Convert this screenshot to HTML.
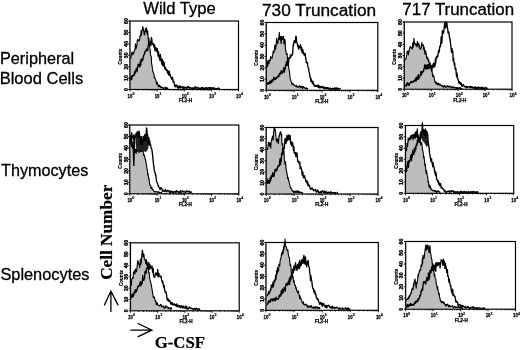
<!DOCTYPE html>
<html><head><meta charset="utf-8"><style>
html,body{margin:0;padding:0;background:#fff;width:520px;height:350px;overflow:hidden}
svg{display:block;filter:blur(0.35px)}
.s{font-family:"Liberation Sans",sans-serif;stroke:#000;stroke-width:0.3px}
.b{font-family:"Liberation Serif",serif;font-weight:bold;stroke:#000;stroke-width:0.2px}
</style></head><body>
<svg width="520" height="350" viewBox="0 0 520 350">
<rect width="520" height="350" fill="#fff"/>
<g fill="#000">
<text class="s" font-size="16.0" transform="translate(143.22,13.80) scale(1.0390,1)">Wild Type</text>
<text class="s" font-size="16.0" transform="translate(261.94,15.60) scale(1.0808,1)">730 Truncation</text>
<text class="s" font-size="16.0" transform="translate(402.35,14.90) scale(1.0567,1)">717 Truncation</text>
<text class="s" font-size="16.3" transform="translate(-0.00,64.30) scale(0.9975,1)">Peripheral</text>
<text class="s" font-size="16.3" transform="translate(-0.32,84.00) scale(1.0134,1)">Blood Cells</text>
<text class="s" font-size="16.3" transform="translate(0.99,175.80) scale(0.9945,1)">Thymocytes</text>
<text class="s" font-size="16.3" transform="translate(0.41,280.30) scale(1.0034,1)">Splenocytes</text>
<text class="b" font-size="17.2" transform="translate(154.66,347.50) scale(0.9763,1)">G-CSF</text>
<text class="b" font-size="17.0" transform="translate(112.0,279.86) rotate(-90) scale(1.0136,1)">Cell Number</text>
</g>
<g stroke="#000" stroke-width="1.3" fill="none" stroke-linecap="round" stroke-linejoin="miter">
<path d="M110.9 311.5 V291.5 M104.5 304.9 L110.9 291.3 L118 304.9"/>
<path d="M130.8 330.2 H151.7 M138.1 323.5 L151.9 330.2 L138.1 336.6"/>
</g>
<polygon points="130.30,88.90 130.30,57.87 130.30,57.87 130.73,58.38 131.15,55.72 131.57,54.42 132.00,51.95 132.44,52.79 132.88,55.01 133.32,52.74 133.76,53.40 134.20,50.87 134.64,50.35 135.07,49.01 135.51,43.92 135.95,48.89 136.39,47.21 136.82,46.34 137.26,40.33 137.70,39.44 138.08,40.21 138.47,40.29 138.85,41.28 139.23,39.42 139.62,39.92 140.00,35.92 140.38,36.69 140.77,35.19 141.15,30.59 141.53,35.10 141.92,30.49 142.30,30.60 142.68,26.62 143.07,27.47 143.45,29.75 143.83,31.57 144.22,34.75 144.60,34.87 145.00,31.53 145.40,28.66 145.80,28.40 146.20,31.84 146.58,27.77 146.96,32.31 147.34,34.42 147.72,30.89 148.10,36.63 148.50,42.74 148.90,38.24 149.30,44.34 149.70,47.75 150.08,48.91 150.46,54.66 150.84,56.21 151.22,56.12 151.60,63.53 151.98,65.47 152.37,68.21 152.75,71.29 153.13,71.69 153.52,73.58 153.90,73.82 154.28,77.71 154.67,77.18 155.05,78.57 155.43,78.76 155.82,80.34 156.20,82.03 156.62,84.47 157.05,82.04 157.47,82.76 157.90,84.92 158.32,86.50 158.75,86.23 159.17,85.02 159.60,85.63 160.03,87.14 160.45,86.44 160.88,86.26 161.31,87.80 161.74,87.96 162.16,87.40 162.59,87.53 163.02,87.74 163.45,88.55 163.87,88.00 164.30,88.02 164.71,88.12 165.12,86.96 165.53,88.70 165.94,88.58 166.36,88.43 166.77,87.40 167.18,88.00 167.59,88.82 168.00,87.77 168.00,88.90" fill="#bdbdbd" stroke="none"/>
<polyline points="130.30,57.87 130.73,58.38 131.15,55.72 131.57,54.42 132.00,51.95 132.44,52.79 132.88,55.01 133.32,52.74 133.76,53.40 134.20,50.87 134.64,50.35 135.07,49.01 135.51,43.92 135.95,48.89 136.39,47.21 136.82,46.34 137.26,40.33 137.70,39.44 138.08,40.21 138.47,40.29 138.85,41.28 139.23,39.42 139.62,39.92 140.00,35.92 140.38,36.69 140.77,35.19 141.15,30.59 141.53,35.10 141.92,30.49 142.30,30.60 142.68,26.62 143.07,27.47 143.45,29.75 143.83,31.57 144.22,34.75 144.60,34.87 145.00,31.53 145.40,28.66 145.80,28.40 146.20,31.84 146.58,27.77 146.96,32.31 147.34,34.42 147.72,30.89 148.10,36.63 148.50,42.74 148.90,38.24 149.30,44.34 149.70,47.75 150.08,48.91 150.46,54.66 150.84,56.21 151.22,56.12 151.60,63.53 151.98,65.47 152.37,68.21 152.75,71.29 153.13,71.69 153.52,73.58 153.90,73.82 154.28,77.71 154.67,77.18 155.05,78.57 155.43,78.76 155.82,80.34 156.20,82.03 156.62,84.47 157.05,82.04 157.47,82.76 157.90,84.92 158.32,86.50 158.75,86.23 159.17,85.02 159.60,85.63 160.03,87.14 160.45,86.44 160.88,86.26 161.31,87.80 161.74,87.96 162.16,87.40 162.59,87.53 163.02,87.74 163.45,88.55 163.87,88.00 164.30,88.02 164.71,88.12 165.12,86.96 165.53,88.70 165.94,88.58 166.36,88.43 166.77,87.40 167.18,88.00 167.59,88.82 168.00,87.77" fill="none" stroke="#000" stroke-width="1.1" stroke-linejoin="round"/>
<polyline points="130.30,78.95 130.73,79.99 131.17,76.02 131.60,79.63 132.03,77.46 132.47,75.75 132.90,75.85 133.33,75.73 133.77,74.24 134.20,75.31 134.64,71.55 135.07,71.23 135.51,73.06 135.95,70.55 136.39,68.17 136.82,70.80 137.26,71.08 137.70,66.75 138.14,64.21 138.57,65.91 139.01,65.17 139.45,64.15 139.89,66.91 140.32,61.20 140.76,65.25 141.20,59.21 141.62,59.04 142.05,60.96 142.47,60.94 142.90,59.20 143.32,56.89 143.75,55.26 144.17,54.13 144.60,53.99 145.04,51.31 145.47,51.56 145.91,51.44 146.35,49.15 146.79,50.23 147.22,48.88 147.66,50.71 148.10,46.55 148.50,43.92 148.90,43.40 149.30,43.69 149.70,45.55 150.10,41.50 150.50,42.81 150.90,45.48 151.35,37.32 151.80,39.21 152.25,43.48 152.70,44.47 153.08,44.60 153.47,43.39 153.85,46.82 154.23,46.41 154.62,44.88 155.00,50.94 155.38,48.68 155.77,47.33 156.15,49.45 156.53,50.11 156.92,51.48 157.30,48.73 157.68,52.01 158.07,56.17 158.45,51.59 158.83,54.78 159.22,57.74 159.60,58.08 159.98,60.47 160.37,54.43 160.75,58.22 161.13,59.22 161.52,62.28 161.90,64.22 162.34,59.26 162.78,65.58 163.21,61.08 163.65,66.13 164.09,62.49 164.53,66.52 164.96,69.20 165.40,67.31 165.83,68.55 166.25,70.26 166.68,69.62 167.10,69.79 167.53,73.29 167.95,72.98 168.38,71.20 168.80,75.05 169.24,71.24 169.68,75.52 170.11,74.46 170.55,75.96 170.99,77.68 171.43,77.80 171.86,79.24 172.30,77.11 172.68,78.18 173.07,81.90 173.45,80.96 173.83,81.92 174.22,82.50 174.60,86.22 175.04,85.93 175.47,86.80 175.91,84.83 176.35,85.90 176.79,85.16 177.22,86.98 177.66,87.84 178.10,86.11 178.54,88.03 178.98,87.63 179.42,86.78 179.86,85.74 180.30,88.04 180.74,86.95 181.19,86.61 181.63,87.39 182.07,87.43 182.51,88.25 182.95,86.47 183.39,88.05 183.83,88.33 184.27,88.34 184.71,87.23 185.15,86.88 185.59,88.13 186.03,87.55 186.47,87.59 186.91,88.49 187.36,87.40 187.80,86.56 188.24,87.40 188.68,86.65 189.12,88.25 189.56,87.96 190.00,87.42 190.44,87.81 190.88,88.35 191.32,87.89 191.76,88.68 192.21,87.84 192.65,88.53 193.09,88.81 193.53,88.89 193.97,87.53 194.41,88.48 194.85,87.00 195.29,87.33 195.74,87.04 196.18,88.64 196.62,87.30 197.06,88.03 197.50,87.94 197.94,88.05 198.38,87.74 198.82,88.23 199.26,88.90 199.71,88.15 200.15,88.44 200.59,88.71 201.03,88.06 201.47,87.48 201.91,87.89 202.35,88.80 202.79,87.35 203.24,87.92 203.68,88.80 204.12,88.70 204.56,88.29 205.00,88.73 205.44,88.40 205.88,87.70 206.32,87.51 206.76,88.00 207.21,88.82 207.65,88.06 208.09,87.90 208.53,87.98 208.97,87.60 209.41,88.33 209.85,87.80 210.29,88.59 210.74,87.61 211.18,88.59 211.62,88.11 212.06,87.65 212.50,88.81 212.94,88.32 213.38,87.69 213.82,88.05 214.26,88.63 214.71,88.27 215.15,88.87 215.59,88.87 216.03,88.83 216.47,88.68 216.91,88.90 217.35,88.85 217.79,88.76 218.24,87.83 218.68,88.90 219.12,88.90 219.56,88.46 220.00,88.39" fill="none" stroke="#000" stroke-width="1.35" stroke-linejoin="round"/>
<rect x="130.0" y="21.0" width="108.5" height="68.5" fill="none" stroke="#000" stroke-width="1.2"/>
<line x1="130.00" y1="89.5" x2="130.00" y2="91.5" stroke="#000" stroke-width="0.9"/>
<line x1="138.17" y1="89.5" x2="138.17" y2="90.7" stroke="#000" stroke-width="0.7"/>
<line x1="142.94" y1="89.5" x2="142.94" y2="90.7" stroke="#000" stroke-width="0.7"/>
<line x1="146.33" y1="89.5" x2="146.33" y2="90.7" stroke="#000" stroke-width="0.7"/>
<line x1="148.96" y1="89.5" x2="148.96" y2="90.7" stroke="#000" stroke-width="0.7"/>
<line x1="151.11" y1="89.5" x2="151.11" y2="90.7" stroke="#000" stroke-width="0.7"/>
<line x1="152.92" y1="89.5" x2="152.92" y2="90.7" stroke="#000" stroke-width="0.7"/>
<line x1="154.50" y1="89.5" x2="154.50" y2="90.7" stroke="#000" stroke-width="0.7"/>
<line x1="155.88" y1="89.5" x2="155.88" y2="90.7" stroke="#000" stroke-width="0.7"/>
<text transform="translate(130.00,97.70) scale(0.82,1)" font-size="5.3" font-weight="bold" text-anchor="middle" font-family="Liberation Sans" stroke="#000" stroke-width="0.25">10</text>
<text x="132.50" y="94.90" font-size="3.6" font-weight="bold" font-family="Liberation Sans" stroke="#000" stroke-width="0.15">0</text>
<line x1="157.12" y1="89.5" x2="157.12" y2="91.5" stroke="#000" stroke-width="0.9"/>
<line x1="165.29" y1="89.5" x2="165.29" y2="90.7" stroke="#000" stroke-width="0.7"/>
<line x1="170.07" y1="89.5" x2="170.07" y2="90.7" stroke="#000" stroke-width="0.7"/>
<line x1="173.46" y1="89.5" x2="173.46" y2="90.7" stroke="#000" stroke-width="0.7"/>
<line x1="176.08" y1="89.5" x2="176.08" y2="90.7" stroke="#000" stroke-width="0.7"/>
<line x1="178.23" y1="89.5" x2="178.23" y2="90.7" stroke="#000" stroke-width="0.7"/>
<line x1="180.05" y1="89.5" x2="180.05" y2="90.7" stroke="#000" stroke-width="0.7"/>
<line x1="181.62" y1="89.5" x2="181.62" y2="90.7" stroke="#000" stroke-width="0.7"/>
<line x1="183.01" y1="89.5" x2="183.01" y2="90.7" stroke="#000" stroke-width="0.7"/>
<text transform="translate(157.12,97.70) scale(0.82,1)" font-size="5.3" font-weight="bold" text-anchor="middle" font-family="Liberation Sans" stroke="#000" stroke-width="0.25">10</text>
<text x="159.62" y="94.90" font-size="3.6" font-weight="bold" font-family="Liberation Sans" stroke="#000" stroke-width="0.15">1</text>
<line x1="184.25" y1="89.5" x2="184.25" y2="91.5" stroke="#000" stroke-width="0.9"/>
<line x1="192.42" y1="89.5" x2="192.42" y2="90.7" stroke="#000" stroke-width="0.7"/>
<line x1="197.19" y1="89.5" x2="197.19" y2="90.7" stroke="#000" stroke-width="0.7"/>
<line x1="200.58" y1="89.5" x2="200.58" y2="90.7" stroke="#000" stroke-width="0.7"/>
<line x1="203.21" y1="89.5" x2="203.21" y2="90.7" stroke="#000" stroke-width="0.7"/>
<line x1="205.36" y1="89.5" x2="205.36" y2="90.7" stroke="#000" stroke-width="0.7"/>
<line x1="207.17" y1="89.5" x2="207.17" y2="90.7" stroke="#000" stroke-width="0.7"/>
<line x1="208.75" y1="89.5" x2="208.75" y2="90.7" stroke="#000" stroke-width="0.7"/>
<line x1="210.13" y1="89.5" x2="210.13" y2="90.7" stroke="#000" stroke-width="0.7"/>
<text transform="translate(184.25,97.70) scale(0.82,1)" font-size="5.3" font-weight="bold" text-anchor="middle" font-family="Liberation Sans" stroke="#000" stroke-width="0.25">10</text>
<text x="186.75" y="94.90" font-size="3.6" font-weight="bold" font-family="Liberation Sans" stroke="#000" stroke-width="0.15">2</text>
<line x1="211.38" y1="89.5" x2="211.38" y2="91.5" stroke="#000" stroke-width="0.9"/>
<line x1="219.54" y1="89.5" x2="219.54" y2="90.7" stroke="#000" stroke-width="0.7"/>
<line x1="224.32" y1="89.5" x2="224.32" y2="90.7" stroke="#000" stroke-width="0.7"/>
<line x1="227.71" y1="89.5" x2="227.71" y2="90.7" stroke="#000" stroke-width="0.7"/>
<line x1="230.33" y1="89.5" x2="230.33" y2="90.7" stroke="#000" stroke-width="0.7"/>
<line x1="232.48" y1="89.5" x2="232.48" y2="90.7" stroke="#000" stroke-width="0.7"/>
<line x1="234.30" y1="89.5" x2="234.30" y2="90.7" stroke="#000" stroke-width="0.7"/>
<line x1="235.87" y1="89.5" x2="235.87" y2="90.7" stroke="#000" stroke-width="0.7"/>
<line x1="237.26" y1="89.5" x2="237.26" y2="90.7" stroke="#000" stroke-width="0.7"/>
<text transform="translate(211.38,97.70) scale(0.82,1)" font-size="5.3" font-weight="bold" text-anchor="middle" font-family="Liberation Sans" stroke="#000" stroke-width="0.25">10</text>
<text x="213.88" y="94.90" font-size="3.6" font-weight="bold" font-family="Liberation Sans" stroke="#000" stroke-width="0.15">3</text>
<line x1="238.50" y1="89.5" x2="238.50" y2="91.5" stroke="#000" stroke-width="0.9"/>
<text transform="translate(238.50,97.70) scale(0.82,1)" font-size="5.3" font-weight="bold" text-anchor="middle" font-family="Liberation Sans" stroke="#000" stroke-width="0.25">10</text>
<text x="241.00" y="94.90" font-size="3.6" font-weight="bold" font-family="Liberation Sans" stroke="#000" stroke-width="0.15">4</text>
<text x="185.50" y="101.80" font-size="4.6" font-weight="bold" text-anchor="middle" font-family="Liberation Sans" stroke="#000" stroke-width="0.25">FL2-H</text>
<line x1="128.2" y1="89.50" x2="130.0" y2="89.50" stroke="#000" stroke-width="0.9"/>
<text transform="translate(127.70,89.50) rotate(-90)" x="0" y="0" font-size="5.2" font-weight="bold" text-anchor="middle" font-family="Liberation Sans" stroke="#000" stroke-width="0.35">0</text>
<line x1="128.2" y1="78.08" x2="130.0" y2="78.08" stroke="#000" stroke-width="0.9"/>
<text transform="translate(127.70,78.08) rotate(-90)" x="0" y="0" font-size="5.2" font-weight="bold" text-anchor="middle" font-family="Liberation Sans" stroke="#000" stroke-width="0.35">10</text>
<line x1="128.2" y1="66.67" x2="130.0" y2="66.67" stroke="#000" stroke-width="0.9"/>
<text transform="translate(127.70,66.67) rotate(-90)" x="0" y="0" font-size="5.2" font-weight="bold" text-anchor="middle" font-family="Liberation Sans" stroke="#000" stroke-width="0.35">20</text>
<line x1="128.2" y1="55.25" x2="130.0" y2="55.25" stroke="#000" stroke-width="0.9"/>
<text transform="translate(127.70,55.25) rotate(-90)" x="0" y="0" font-size="5.2" font-weight="bold" text-anchor="middle" font-family="Liberation Sans" stroke="#000" stroke-width="0.35">30</text>
<line x1="128.2" y1="43.83" x2="130.0" y2="43.83" stroke="#000" stroke-width="0.9"/>
<text transform="translate(127.70,43.83) rotate(-90)" x="0" y="0" font-size="5.2" font-weight="bold" text-anchor="middle" font-family="Liberation Sans" stroke="#000" stroke-width="0.35">40</text>
<line x1="128.2" y1="32.42" x2="130.0" y2="32.42" stroke="#000" stroke-width="0.9"/>
<text transform="translate(127.70,32.42) rotate(-90)" x="0" y="0" font-size="5.2" font-weight="bold" text-anchor="middle" font-family="Liberation Sans" stroke="#000" stroke-width="0.35">50</text>
<line x1="128.2" y1="21.00" x2="130.0" y2="21.00" stroke="#000" stroke-width="0.9"/>
<text transform="translate(127.70,21.00) rotate(-90)" x="0" y="0" font-size="5.2" font-weight="bold" text-anchor="middle" font-family="Liberation Sans" stroke="#000" stroke-width="0.35">60</text>
<line x1="129.0" y1="89.50" x2="130.0" y2="89.50" stroke="#000" stroke-width="0.6"/>
<line x1="129.0" y1="87.22" x2="130.0" y2="87.22" stroke="#000" stroke-width="0.6"/>
<line x1="129.0" y1="84.93" x2="130.0" y2="84.93" stroke="#000" stroke-width="0.6"/>
<line x1="129.0" y1="82.65" x2="130.0" y2="82.65" stroke="#000" stroke-width="0.6"/>
<line x1="129.0" y1="80.37" x2="130.0" y2="80.37" stroke="#000" stroke-width="0.6"/>
<line x1="129.0" y1="78.08" x2="130.0" y2="78.08" stroke="#000" stroke-width="0.6"/>
<line x1="129.0" y1="75.80" x2="130.0" y2="75.80" stroke="#000" stroke-width="0.6"/>
<line x1="129.0" y1="73.52" x2="130.0" y2="73.52" stroke="#000" stroke-width="0.6"/>
<line x1="129.0" y1="71.23" x2="130.0" y2="71.23" stroke="#000" stroke-width="0.6"/>
<line x1="129.0" y1="68.95" x2="130.0" y2="68.95" stroke="#000" stroke-width="0.6"/>
<line x1="129.0" y1="66.67" x2="130.0" y2="66.67" stroke="#000" stroke-width="0.6"/>
<line x1="129.0" y1="64.38" x2="130.0" y2="64.38" stroke="#000" stroke-width="0.6"/>
<line x1="129.0" y1="62.10" x2="130.0" y2="62.10" stroke="#000" stroke-width="0.6"/>
<line x1="129.0" y1="59.82" x2="130.0" y2="59.82" stroke="#000" stroke-width="0.6"/>
<line x1="129.0" y1="57.53" x2="130.0" y2="57.53" stroke="#000" stroke-width="0.6"/>
<line x1="129.0" y1="55.25" x2="130.0" y2="55.25" stroke="#000" stroke-width="0.6"/>
<line x1="129.0" y1="52.97" x2="130.0" y2="52.97" stroke="#000" stroke-width="0.6"/>
<line x1="129.0" y1="50.68" x2="130.0" y2="50.68" stroke="#000" stroke-width="0.6"/>
<line x1="129.0" y1="48.40" x2="130.0" y2="48.40" stroke="#000" stroke-width="0.6"/>
<line x1="129.0" y1="46.12" x2="130.0" y2="46.12" stroke="#000" stroke-width="0.6"/>
<line x1="129.0" y1="43.83" x2="130.0" y2="43.83" stroke="#000" stroke-width="0.6"/>
<line x1="129.0" y1="41.55" x2="130.0" y2="41.55" stroke="#000" stroke-width="0.6"/>
<line x1="129.0" y1="39.27" x2="130.0" y2="39.27" stroke="#000" stroke-width="0.6"/>
<line x1="129.0" y1="36.98" x2="130.0" y2="36.98" stroke="#000" stroke-width="0.6"/>
<line x1="129.0" y1="34.70" x2="130.0" y2="34.70" stroke="#000" stroke-width="0.6"/>
<line x1="129.0" y1="32.42" x2="130.0" y2="32.42" stroke="#000" stroke-width="0.6"/>
<line x1="129.0" y1="30.13" x2="130.0" y2="30.13" stroke="#000" stroke-width="0.6"/>
<line x1="129.0" y1="27.85" x2="130.0" y2="27.85" stroke="#000" stroke-width="0.6"/>
<line x1="129.0" y1="25.57" x2="130.0" y2="25.57" stroke="#000" stroke-width="0.6"/>
<line x1="129.0" y1="23.28" x2="130.0" y2="23.28" stroke="#000" stroke-width="0.6"/>
<line x1="129.0" y1="21.00" x2="130.0" y2="21.00" stroke="#000" stroke-width="0.6"/>
<text transform="translate(122.10,56.62) rotate(-90)" x="0" y="0" font-size="4.6" font-weight="bold" text-anchor="middle" font-family="Liberation Sans" stroke="#000" stroke-width="0.2">Counts</text>
<polygon points="266.60,89.70 266.60,68.31 266.60,68.31 266.98,61.48 267.37,64.67 267.75,66.13 268.13,60.40 268.52,62.85 268.90,63.94 269.34,59.88 269.77,60.71 270.21,60.85 270.65,56.50 271.09,57.64 271.52,57.87 271.96,58.45 272.40,56.03 272.78,54.32 273.17,51.13 273.55,51.23 273.93,52.76 274.32,49.59 274.70,45.97 275.08,44.82 275.47,49.60 275.85,47.36 276.23,44.99 276.62,38.21 277.00,42.69 277.38,41.57 277.77,43.71 278.15,39.91 278.53,37.86 278.92,38.65 279.30,32.25 279.68,39.80 280.07,38.49 280.45,36.36 280.83,42.22 281.22,43.48 281.60,36.28 282.00,37.60 282.40,39.51 282.80,38.66 283.20,36.55 283.58,36.22 283.96,44.05 284.34,43.73 284.72,39.23 285.10,40.04 285.50,49.60 285.90,50.36 286.30,54.01 286.70,54.43 287.08,53.48 287.46,58.71 287.84,57.71 288.22,62.27 288.60,66.39 289.00,70.28 289.40,71.07 289.80,74.94 290.20,78.63 290.56,79.66 290.92,81.12 291.28,81.73 291.64,82.27 292.00,84.63 292.44,84.14 292.88,83.54 293.31,84.04 293.75,84.95 294.19,85.13 294.62,85.67 295.06,85.81 295.50,86.25 295.95,86.08 296.39,85.20 296.84,86.74 297.28,87.36 297.73,86.92 298.18,86.50 298.62,87.11 299.07,86.06 299.52,85.65 299.96,87.07 300.41,86.39 300.85,87.78 301.30,86.47 301.73,86.13 302.16,86.61 302.59,88.61 303.02,87.19 303.46,86.51 303.89,87.00 304.32,87.99 304.75,88.01 305.18,87.82 305.61,88.79 306.04,88.28 306.48,87.81 306.91,88.28 307.34,89.02 307.77,88.62 308.20,88.70 308.20,89.70" fill="#bdbdbd" stroke="none"/>
<polyline points="266.60,68.31 266.98,61.48 267.37,64.67 267.75,66.13 268.13,60.40 268.52,62.85 268.90,63.94 269.34,59.88 269.77,60.71 270.21,60.85 270.65,56.50 271.09,57.64 271.52,57.87 271.96,58.45 272.40,56.03 272.78,54.32 273.17,51.13 273.55,51.23 273.93,52.76 274.32,49.59 274.70,45.97 275.08,44.82 275.47,49.60 275.85,47.36 276.23,44.99 276.62,38.21 277.00,42.69 277.38,41.57 277.77,43.71 278.15,39.91 278.53,37.86 278.92,38.65 279.30,32.25 279.68,39.80 280.07,38.49 280.45,36.36 280.83,42.22 281.22,43.48 281.60,36.28 282.00,37.60 282.40,39.51 282.80,38.66 283.20,36.55 283.58,36.22 283.96,44.05 284.34,43.73 284.72,39.23 285.10,40.04 285.50,49.60 285.90,50.36 286.30,54.01 286.70,54.43 287.08,53.48 287.46,58.71 287.84,57.71 288.22,62.27 288.60,66.39 289.00,70.28 289.40,71.07 289.80,74.94 290.20,78.63 290.56,79.66 290.92,81.12 291.28,81.73 291.64,82.27 292.00,84.63 292.44,84.14 292.88,83.54 293.31,84.04 293.75,84.95 294.19,85.13 294.62,85.67 295.06,85.81 295.50,86.25 295.95,86.08 296.39,85.20 296.84,86.74 297.28,87.36 297.73,86.92 298.18,86.50 298.62,87.11 299.07,86.06 299.52,85.65 299.96,87.07 300.41,86.39 300.85,87.78 301.30,86.47 301.73,86.13 302.16,86.61 302.59,88.61 303.02,87.19 303.46,86.51 303.89,87.00 304.32,87.99 304.75,88.01 305.18,87.82 305.61,88.79 306.04,88.28 306.48,87.81 306.91,88.28 307.34,89.02 307.77,88.62 308.20,88.70" fill="none" stroke="#000" stroke-width="1.1" stroke-linejoin="round"/>
<polyline points="266.60,82.58 267.04,83.34 267.48,84.08 267.91,82.59 268.35,83.94 268.79,83.09 269.23,83.20 269.66,81.52 270.10,83.55 270.53,82.82 270.95,80.64 271.38,80.76 271.80,82.51 272.23,79.59 272.65,80.98 273.07,80.86 273.50,79.21 273.94,77.24 274.38,78.90 274.81,78.86 275.25,79.72 275.69,78.93 276.12,77.51 276.56,78.49 277.00,77.73 277.44,76.93 277.88,76.41 278.31,75.65 278.75,76.84 279.19,73.77 279.62,74.16 280.06,74.90 280.50,72.19 280.93,73.29 281.35,70.73 281.77,71.70 282.20,73.30 282.62,72.73 283.05,71.05 283.47,70.15 283.90,67.38 284.34,72.14 284.77,69.24 285.21,69.51 285.65,64.75 286.09,65.25 286.52,61.47 286.96,65.50 287.40,64.97 287.78,59.22 288.17,62.12 288.55,63.21 288.93,58.01 289.32,57.60 289.70,58.37 290.08,57.94 290.47,54.81 290.85,56.72 291.23,55.89 291.62,55.47 292.00,54.31 292.38,54.80 292.77,52.48 293.15,44.62 293.53,45.14 293.92,42.11 294.30,40.49 294.68,42.48 295.06,42.01 295.44,42.65 295.82,36.20 296.20,36.45 296.60,41.59 297.00,42.86 297.40,44.32 297.80,46.74 298.18,45.11 298.57,49.09 298.95,48.37 299.33,47.41 299.72,46.08 300.10,47.55 300.48,44.68 300.87,47.05 301.25,50.39 301.63,47.33 302.02,52.33 302.40,52.96 302.78,49.44 303.17,52.39 303.55,52.44 303.93,54.51 304.32,55.08 304.70,53.71 305.10,53.52 305.50,56.92 305.90,58.83 306.30,62.31 306.68,62.95 307.06,62.44 307.44,62.83 307.82,66.45 308.20,67.40 308.58,68.29 308.97,71.66 309.35,72.56 309.73,75.11 310.12,77.28 310.50,77.39 310.90,81.13 311.30,79.21 311.70,81.97 312.10,81.47 312.50,83.53 312.90,81.08 313.30,82.96 313.71,84.30 314.12,84.92 314.53,86.20 314.94,85.06 315.35,86.27 315.76,85.96 316.17,86.35 316.58,86.14 316.99,85.72 317.40,86.58 317.85,85.20 318.29,87.37 318.74,85.46 319.18,86.69 319.63,87.98 320.08,86.46 320.52,86.76 320.97,87.84 321.42,86.95 321.86,86.35 322.31,87.33 322.75,87.68 323.20,87.87 323.65,86.77 324.09,88.73 324.54,88.80 324.98,87.65 325.43,87.93 325.88,87.49 326.32,88.93 326.77,87.47 327.22,88.54 327.66,87.81 328.11,87.75 328.55,88.80 329.00,89.28 329.44,88.42 329.88,88.01 330.33,89.01 330.77,88.48 331.21,88.73 331.65,89.53 332.10,89.30 332.54,88.29 332.98,89.63 333.42,88.67 333.87,89.18 334.31,88.33 334.75,88.72 335.19,87.82 335.63,89.70 336.08,89.63 336.52,88.15 336.96,88.02 337.40,88.00 337.85,89.60 338.29,88.71 338.73,88.96 339.17,88.85 339.62,88.98 340.06,88.49 340.50,89.11" fill="none" stroke="#000" stroke-width="1.35" stroke-linejoin="round"/>
<rect x="266.3" y="22.5" width="111.5" height="67.8" fill="none" stroke="#000" stroke-width="1.2"/>
<line x1="266.30" y1="90.3" x2="266.30" y2="92.3" stroke="#000" stroke-width="0.9"/>
<line x1="274.69" y1="90.3" x2="274.69" y2="91.5" stroke="#000" stroke-width="0.7"/>
<line x1="279.60" y1="90.3" x2="279.60" y2="91.5" stroke="#000" stroke-width="0.7"/>
<line x1="283.08" y1="90.3" x2="283.08" y2="91.5" stroke="#000" stroke-width="0.7"/>
<line x1="285.78" y1="90.3" x2="285.78" y2="91.5" stroke="#000" stroke-width="0.7"/>
<line x1="287.99" y1="90.3" x2="287.99" y2="91.5" stroke="#000" stroke-width="0.7"/>
<line x1="289.86" y1="90.3" x2="289.86" y2="91.5" stroke="#000" stroke-width="0.7"/>
<line x1="291.47" y1="90.3" x2="291.47" y2="91.5" stroke="#000" stroke-width="0.7"/>
<line x1="292.90" y1="90.3" x2="292.90" y2="91.5" stroke="#000" stroke-width="0.7"/>
<text transform="translate(266.30,98.50) scale(0.82,1)" font-size="5.3" font-weight="bold" text-anchor="middle" font-family="Liberation Sans" stroke="#000" stroke-width="0.25">10</text>
<text x="268.80" y="95.70" font-size="3.6" font-weight="bold" font-family="Liberation Sans" stroke="#000" stroke-width="0.15">0</text>
<line x1="294.18" y1="90.3" x2="294.18" y2="92.3" stroke="#000" stroke-width="0.9"/>
<line x1="302.57" y1="90.3" x2="302.57" y2="91.5" stroke="#000" stroke-width="0.7"/>
<line x1="307.47" y1="90.3" x2="307.47" y2="91.5" stroke="#000" stroke-width="0.7"/>
<line x1="310.96" y1="90.3" x2="310.96" y2="91.5" stroke="#000" stroke-width="0.7"/>
<line x1="313.66" y1="90.3" x2="313.66" y2="91.5" stroke="#000" stroke-width="0.7"/>
<line x1="315.87" y1="90.3" x2="315.87" y2="91.5" stroke="#000" stroke-width="0.7"/>
<line x1="317.73" y1="90.3" x2="317.73" y2="91.5" stroke="#000" stroke-width="0.7"/>
<line x1="319.35" y1="90.3" x2="319.35" y2="91.5" stroke="#000" stroke-width="0.7"/>
<line x1="320.77" y1="90.3" x2="320.77" y2="91.5" stroke="#000" stroke-width="0.7"/>
<text transform="translate(294.18,98.50) scale(0.82,1)" font-size="5.3" font-weight="bold" text-anchor="middle" font-family="Liberation Sans" stroke="#000" stroke-width="0.25">10</text>
<text x="296.68" y="95.70" font-size="3.6" font-weight="bold" font-family="Liberation Sans" stroke="#000" stroke-width="0.15">1</text>
<line x1="322.05" y1="90.3" x2="322.05" y2="92.3" stroke="#000" stroke-width="0.9"/>
<line x1="330.44" y1="90.3" x2="330.44" y2="91.5" stroke="#000" stroke-width="0.7"/>
<line x1="335.35" y1="90.3" x2="335.35" y2="91.5" stroke="#000" stroke-width="0.7"/>
<line x1="338.83" y1="90.3" x2="338.83" y2="91.5" stroke="#000" stroke-width="0.7"/>
<line x1="341.53" y1="90.3" x2="341.53" y2="91.5" stroke="#000" stroke-width="0.7"/>
<line x1="343.74" y1="90.3" x2="343.74" y2="91.5" stroke="#000" stroke-width="0.7"/>
<line x1="345.61" y1="90.3" x2="345.61" y2="91.5" stroke="#000" stroke-width="0.7"/>
<line x1="347.22" y1="90.3" x2="347.22" y2="91.5" stroke="#000" stroke-width="0.7"/>
<line x1="348.65" y1="90.3" x2="348.65" y2="91.5" stroke="#000" stroke-width="0.7"/>
<text transform="translate(322.05,98.50) scale(0.82,1)" font-size="5.3" font-weight="bold" text-anchor="middle" font-family="Liberation Sans" stroke="#000" stroke-width="0.25">10</text>
<text x="324.55" y="95.70" font-size="3.6" font-weight="bold" font-family="Liberation Sans" stroke="#000" stroke-width="0.15">2</text>
<line x1="349.93" y1="90.3" x2="349.93" y2="92.3" stroke="#000" stroke-width="0.9"/>
<line x1="358.32" y1="90.3" x2="358.32" y2="91.5" stroke="#000" stroke-width="0.7"/>
<line x1="363.22" y1="90.3" x2="363.22" y2="91.5" stroke="#000" stroke-width="0.7"/>
<line x1="366.71" y1="90.3" x2="366.71" y2="91.5" stroke="#000" stroke-width="0.7"/>
<line x1="369.41" y1="90.3" x2="369.41" y2="91.5" stroke="#000" stroke-width="0.7"/>
<line x1="371.62" y1="90.3" x2="371.62" y2="91.5" stroke="#000" stroke-width="0.7"/>
<line x1="373.48" y1="90.3" x2="373.48" y2="91.5" stroke="#000" stroke-width="0.7"/>
<line x1="375.10" y1="90.3" x2="375.10" y2="91.5" stroke="#000" stroke-width="0.7"/>
<line x1="376.52" y1="90.3" x2="376.52" y2="91.5" stroke="#000" stroke-width="0.7"/>
<text transform="translate(349.93,98.50) scale(0.82,1)" font-size="5.3" font-weight="bold" text-anchor="middle" font-family="Liberation Sans" stroke="#000" stroke-width="0.25">10</text>
<text x="352.43" y="95.70" font-size="3.6" font-weight="bold" font-family="Liberation Sans" stroke="#000" stroke-width="0.15">3</text>
<line x1="377.80" y1="90.3" x2="377.80" y2="92.3" stroke="#000" stroke-width="0.9"/>
<text transform="translate(377.80,98.50) scale(0.82,1)" font-size="5.3" font-weight="bold" text-anchor="middle" font-family="Liberation Sans" stroke="#000" stroke-width="0.25">10</text>
<text x="380.30" y="95.70" font-size="3.6" font-weight="bold" font-family="Liberation Sans" stroke="#000" stroke-width="0.15">4</text>
<text x="321.80" y="102.60" font-size="4.6" font-weight="bold" text-anchor="middle" font-family="Liberation Sans" stroke="#000" stroke-width="0.25">FL2-H</text>
<line x1="264.5" y1="90.30" x2="266.3" y2="90.30" stroke="#000" stroke-width="0.9"/>
<text transform="translate(264.00,90.30) rotate(-90)" x="0" y="0" font-size="5.2" font-weight="bold" text-anchor="middle" font-family="Liberation Sans" stroke="#000" stroke-width="0.35">0</text>
<line x1="264.5" y1="79.00" x2="266.3" y2="79.00" stroke="#000" stroke-width="0.9"/>
<text transform="translate(264.00,79.00) rotate(-90)" x="0" y="0" font-size="5.2" font-weight="bold" text-anchor="middle" font-family="Liberation Sans" stroke="#000" stroke-width="0.35">10</text>
<line x1="264.5" y1="67.70" x2="266.3" y2="67.70" stroke="#000" stroke-width="0.9"/>
<text transform="translate(264.00,67.70) rotate(-90)" x="0" y="0" font-size="5.2" font-weight="bold" text-anchor="middle" font-family="Liberation Sans" stroke="#000" stroke-width="0.35">20</text>
<line x1="264.5" y1="56.40" x2="266.3" y2="56.40" stroke="#000" stroke-width="0.9"/>
<text transform="translate(264.00,56.40) rotate(-90)" x="0" y="0" font-size="5.2" font-weight="bold" text-anchor="middle" font-family="Liberation Sans" stroke="#000" stroke-width="0.35">30</text>
<line x1="264.5" y1="45.10" x2="266.3" y2="45.10" stroke="#000" stroke-width="0.9"/>
<text transform="translate(264.00,45.10) rotate(-90)" x="0" y="0" font-size="5.2" font-weight="bold" text-anchor="middle" font-family="Liberation Sans" stroke="#000" stroke-width="0.35">40</text>
<line x1="264.5" y1="33.80" x2="266.3" y2="33.80" stroke="#000" stroke-width="0.9"/>
<text transform="translate(264.00,33.80) rotate(-90)" x="0" y="0" font-size="5.2" font-weight="bold" text-anchor="middle" font-family="Liberation Sans" stroke="#000" stroke-width="0.35">50</text>
<line x1="264.5" y1="22.50" x2="266.3" y2="22.50" stroke="#000" stroke-width="0.9"/>
<text transform="translate(264.00,22.50) rotate(-90)" x="0" y="0" font-size="5.2" font-weight="bold" text-anchor="middle" font-family="Liberation Sans" stroke="#000" stroke-width="0.35">60</text>
<line x1="265.3" y1="90.30" x2="266.3" y2="90.30" stroke="#000" stroke-width="0.6"/>
<line x1="265.3" y1="88.04" x2="266.3" y2="88.04" stroke="#000" stroke-width="0.6"/>
<line x1="265.3" y1="85.78" x2="266.3" y2="85.78" stroke="#000" stroke-width="0.6"/>
<line x1="265.3" y1="83.52" x2="266.3" y2="83.52" stroke="#000" stroke-width="0.6"/>
<line x1="265.3" y1="81.26" x2="266.3" y2="81.26" stroke="#000" stroke-width="0.6"/>
<line x1="265.3" y1="79.00" x2="266.3" y2="79.00" stroke="#000" stroke-width="0.6"/>
<line x1="265.3" y1="76.74" x2="266.3" y2="76.74" stroke="#000" stroke-width="0.6"/>
<line x1="265.3" y1="74.48" x2="266.3" y2="74.48" stroke="#000" stroke-width="0.6"/>
<line x1="265.3" y1="72.22" x2="266.3" y2="72.22" stroke="#000" stroke-width="0.6"/>
<line x1="265.3" y1="69.96" x2="266.3" y2="69.96" stroke="#000" stroke-width="0.6"/>
<line x1="265.3" y1="67.70" x2="266.3" y2="67.70" stroke="#000" stroke-width="0.6"/>
<line x1="265.3" y1="65.44" x2="266.3" y2="65.44" stroke="#000" stroke-width="0.6"/>
<line x1="265.3" y1="63.18" x2="266.3" y2="63.18" stroke="#000" stroke-width="0.6"/>
<line x1="265.3" y1="60.92" x2="266.3" y2="60.92" stroke="#000" stroke-width="0.6"/>
<line x1="265.3" y1="58.66" x2="266.3" y2="58.66" stroke="#000" stroke-width="0.6"/>
<line x1="265.3" y1="56.40" x2="266.3" y2="56.40" stroke="#000" stroke-width="0.6"/>
<line x1="265.3" y1="54.14" x2="266.3" y2="54.14" stroke="#000" stroke-width="0.6"/>
<line x1="265.3" y1="51.88" x2="266.3" y2="51.88" stroke="#000" stroke-width="0.6"/>
<line x1="265.3" y1="49.62" x2="266.3" y2="49.62" stroke="#000" stroke-width="0.6"/>
<line x1="265.3" y1="47.36" x2="266.3" y2="47.36" stroke="#000" stroke-width="0.6"/>
<line x1="265.3" y1="45.10" x2="266.3" y2="45.10" stroke="#000" stroke-width="0.6"/>
<line x1="265.3" y1="42.84" x2="266.3" y2="42.84" stroke="#000" stroke-width="0.6"/>
<line x1="265.3" y1="40.58" x2="266.3" y2="40.58" stroke="#000" stroke-width="0.6"/>
<line x1="265.3" y1="38.32" x2="266.3" y2="38.32" stroke="#000" stroke-width="0.6"/>
<line x1="265.3" y1="36.06" x2="266.3" y2="36.06" stroke="#000" stroke-width="0.6"/>
<line x1="265.3" y1="33.80" x2="266.3" y2="33.80" stroke="#000" stroke-width="0.6"/>
<line x1="265.3" y1="31.54" x2="266.3" y2="31.54" stroke="#000" stroke-width="0.6"/>
<line x1="265.3" y1="29.28" x2="266.3" y2="29.28" stroke="#000" stroke-width="0.6"/>
<line x1="265.3" y1="27.02" x2="266.3" y2="27.02" stroke="#000" stroke-width="0.6"/>
<line x1="265.3" y1="24.76" x2="266.3" y2="24.76" stroke="#000" stroke-width="0.6"/>
<line x1="265.3" y1="22.50" x2="266.3" y2="22.50" stroke="#000" stroke-width="0.6"/>
<text transform="translate(258.40,57.76) rotate(-90)" x="0" y="0" font-size="4.6" font-weight="bold" text-anchor="middle" font-family="Liberation Sans" stroke="#000" stroke-width="0.2">Counts</text>
<polygon points="404.60,88.60 404.60,59.09 405.10,59.09 405.55,59.73 406.00,58.49 406.45,56.83 406.90,53.29 407.28,51.22 407.67,52.99 408.05,50.96 408.43,55.01 408.82,52.63 409.20,50.04 409.58,48.65 409.97,47.53 410.35,46.41 410.73,47.20 411.12,48.16 411.50,48.13 411.90,47.48 412.30,49.21 412.70,42.83 413.10,43.80 413.50,46.95 413.90,38.20 414.28,41.30 414.67,43.42 415.05,43.78 415.43,44.80 415.82,43.62 416.20,45.49 416.58,44.91 416.97,46.84 417.35,41.27 417.73,43.19 418.12,45.51 418.50,43.21 418.88,43.57 419.27,47.97 419.65,45.30 420.03,48.74 420.42,49.38 420.80,48.72 421.16,48.52 421.52,46.39 421.88,42.57 422.24,45.21 422.60,45.71 423.00,44.47 423.40,46.66 423.80,49.81 424.20,47.16 424.62,51.52 425.05,54.54 425.47,50.50 425.90,52.93 426.25,53.44 426.60,58.28 426.95,56.80 427.30,59.18 427.70,57.31 428.10,60.12 428.50,61.56 428.90,59.93 429.30,66.60 429.70,66.42 430.10,62.69 430.50,67.84 430.86,67.65 431.22,70.02 431.58,71.24 431.94,69.63 432.30,73.07 432.68,76.78 433.06,74.90 433.44,75.47 433.82,76.24 434.20,77.66 434.60,80.27 435.00,82.42 435.40,81.67 435.80,82.10 436.20,84.19 436.60,82.61 437.00,83.14 437.42,84.48 437.84,84.66 438.25,83.37 438.67,83.42 439.09,84.93 439.51,85.06 439.93,83.87 440.35,85.01 440.76,84.90 441.18,85.91 441.60,85.61 442.03,85.70 442.46,85.56 442.89,86.74 443.33,87.07 443.76,85.76 444.19,86.76 444.62,85.60 445.05,86.30 445.48,86.88 445.91,87.51 446.34,86.18 446.77,86.47 447.21,86.73 447.64,85.60 448.07,86.74 448.50,86.33 448.93,87.11 449.36,86.15 449.79,85.89 450.23,87.05 450.66,87.25 451.09,86.78 451.52,87.76 451.95,87.08 452.38,86.93 452.81,87.66 453.24,86.46 453.67,87.07 454.11,87.52 454.54,88.08 454.97,87.55 455.40,87.87 455.84,87.38 456.27,87.95 456.71,88.60 457.15,87.51 457.59,88.60 458.02,87.63 458.46,88.01 458.90,88.14 459.34,88.59 459.77,87.55 460.21,87.44 460.65,88.50 461.09,88.60 461.52,88.58 461.96,88.60 462.40,88.48 462.40,88.60" fill="#bdbdbd" stroke="none"/>
<polyline points="405.10,59.09 405.55,59.73 406.00,58.49 406.45,56.83 406.90,53.29 407.28,51.22 407.67,52.99 408.05,50.96 408.43,55.01 408.82,52.63 409.20,50.04 409.58,48.65 409.97,47.53 410.35,46.41 410.73,47.20 411.12,48.16 411.50,48.13 411.90,47.48 412.30,49.21 412.70,42.83 413.10,43.80 413.50,46.95 413.90,38.20 414.28,41.30 414.67,43.42 415.05,43.78 415.43,44.80 415.82,43.62 416.20,45.49 416.58,44.91 416.97,46.84 417.35,41.27 417.73,43.19 418.12,45.51 418.50,43.21 418.88,43.57 419.27,47.97 419.65,45.30 420.03,48.74 420.42,49.38 420.80,48.72 421.16,48.52 421.52,46.39 421.88,42.57 422.24,45.21 422.60,45.71 423.00,44.47 423.40,46.66 423.80,49.81 424.20,47.16 424.62,51.52 425.05,54.54 425.47,50.50 425.90,52.93 426.25,53.44 426.60,58.28 426.95,56.80 427.30,59.18 427.70,57.31 428.10,60.12 428.50,61.56 428.90,59.93 429.30,66.60 429.70,66.42 430.10,62.69 430.50,67.84 430.86,67.65 431.22,70.02 431.58,71.24 431.94,69.63 432.30,73.07 432.68,76.78 433.06,74.90 433.44,75.47 433.82,76.24 434.20,77.66 434.60,80.27 435.00,82.42 435.40,81.67 435.80,82.10 436.20,84.19 436.60,82.61 437.00,83.14 437.42,84.48 437.84,84.66 438.25,83.37 438.67,83.42 439.09,84.93 439.51,85.06 439.93,83.87 440.35,85.01 440.76,84.90 441.18,85.91 441.60,85.61 442.03,85.70 442.46,85.56 442.89,86.74 443.33,87.07 443.76,85.76 444.19,86.76 444.62,85.60 445.05,86.30 445.48,86.88 445.91,87.51 446.34,86.18 446.77,86.47 447.21,86.73 447.64,85.60 448.07,86.74 448.50,86.33 448.93,87.11 449.36,86.15 449.79,85.89 450.23,87.05 450.66,87.25 451.09,86.78 451.52,87.76 451.95,87.08 452.38,86.93 452.81,87.66 453.24,86.46 453.67,87.07 454.11,87.52 454.54,88.08 454.97,87.55 455.40,87.87 455.84,87.38 456.27,87.95 456.71,88.60 457.15,87.51 457.59,88.60 458.02,87.63 458.46,88.01 458.90,88.14 459.34,88.59 459.77,87.55 460.21,87.44 460.65,88.50 461.09,88.60 461.52,88.58 461.96,88.60 462.40,88.48" fill="none" stroke="#000" stroke-width="1.1" stroke-linejoin="round"/>
<polygon points="424.50,64.80 428.90,64.00 432.30,65.20 434.60,63.00 436.00,63.50 435.50,67.00 432.30,68.60 428.90,67.60 425.00,69.00" fill="#222" stroke="none"/>
<polyline points="405.10,85.24 405.51,85.76 405.92,85.11 406.33,86.19 406.74,83.31 407.15,84.03 407.56,82.68 407.97,84.98 408.38,83.66 408.79,84.87 409.20,85.46 409.64,83.51 410.07,82.95 410.51,82.38 410.95,81.70 411.39,81.64 411.82,82.82 412.26,81.83 412.70,81.58 413.14,81.00 413.57,82.07 414.01,81.26 414.45,80.17 414.89,80.93 415.32,79.57 415.76,77.95 416.20,81.17 416.62,79.40 417.05,76.98 417.48,79.43 417.90,77.95 418.32,74.70 418.75,78.97 419.18,76.64 419.60,77.08 420.04,75.44 420.48,74.31 420.91,71.46 421.35,75.01 421.79,72.88 422.23,71.76 422.66,72.28 423.10,71.24 423.48,71.54 423.87,68.89 424.25,68.73 424.63,65.02 425.02,66.46 425.40,67.81 425.84,68.95 426.27,65.49 426.71,65.81 427.15,69.01 427.59,65.11 428.02,67.05 428.46,68.62 428.90,65.38 429.32,67.88 429.75,64.20 430.18,66.16 430.60,65.75 431.02,66.28 431.45,68.41 431.88,69.47 432.30,65.21 432.68,64.99 433.07,66.71 433.45,63.25 433.83,65.96 434.22,65.74 434.60,63.64 435.00,64.33 435.40,59.02 435.80,62.92 436.20,56.99 436.60,57.84 437.00,57.16 437.38,55.75 437.77,56.94 438.15,53.40 438.53,50.50 438.92,51.09 439.30,52.02 439.68,46.48 440.07,45.89 440.45,46.71 440.83,42.59 441.22,36.80 441.60,43.26 441.98,41.60 442.37,30.73 442.75,33.49 443.13,33.10 443.52,33.03 443.90,30.44 444.30,26.59 444.70,23.20 445.10,25.80 445.50,27.74 445.86,21.89 446.22,22.88 446.58,26.76 446.94,22.72 447.30,27.61 447.70,28.82 448.10,33.20 448.50,31.55 448.90,32.80 449.30,35.95 449.70,38.66 450.08,38.89 450.47,42.67 450.85,46.53 451.23,49.53 451.62,52.44 452.00,48.36 452.38,51.61 452.77,51.19 453.15,60.88 453.53,57.98 453.92,61.81 454.30,65.26 454.68,63.27 455.07,68.55 455.45,69.35 455.83,68.33 456.22,73.36 456.60,76.51 456.98,73.29 457.37,78.10 457.75,78.35 458.13,79.84 458.52,80.92 458.90,83.08 459.34,81.72 459.77,83.47 460.21,82.51 460.65,84.23 461.09,83.10 461.52,84.32 461.96,86.42 462.40,85.80 462.82,85.39 463.24,84.66 463.65,85.11 464.07,86.07 464.49,86.81 464.91,86.51 465.33,86.71 465.75,86.39 466.16,87.58 466.58,86.38 467.00,86.40 467.44,87.49 467.88,86.93 468.31,86.73 468.75,86.56 469.19,86.83 469.63,87.49 470.07,87.34 470.50,86.31 470.94,87.47 471.38,87.35 471.82,86.61 472.26,87.82 472.70,87.17 473.13,87.18 473.57,87.95 474.01,88.32 474.45,87.10 474.89,87.84 475.32,87.08 475.76,88.60 476.20,87.41 476.65,88.43 477.09,87.38 477.54,88.25 477.98,88.60 478.43,86.93 478.88,87.62 479.32,88.17 479.77,87.86 480.22,87.58 480.66,88.60 481.11,88.04 481.55,87.19 482.00,88.49 482.45,87.26 482.89,88.60 483.34,87.84 483.78,88.23 484.23,88.60 484.68,88.27 485.12,87.59 485.57,87.53 486.02,88.60 486.46,88.60 486.91,87.99 487.35,88.60 487.80,88.60" fill="none" stroke="#000" stroke-width="1.35" stroke-linejoin="round"/>
<rect x="404.3" y="22.0" width="107.69999999999999" height="67.2" fill="none" stroke="#000" stroke-width="1.2"/>
<line x1="404.30" y1="89.2" x2="404.30" y2="91.2" stroke="#000" stroke-width="0.9"/>
<line x1="412.41" y1="89.2" x2="412.41" y2="90.4" stroke="#000" stroke-width="0.7"/>
<line x1="417.15" y1="89.2" x2="417.15" y2="90.4" stroke="#000" stroke-width="0.7"/>
<line x1="420.51" y1="89.2" x2="420.51" y2="90.4" stroke="#000" stroke-width="0.7"/>
<line x1="423.12" y1="89.2" x2="423.12" y2="90.4" stroke="#000" stroke-width="0.7"/>
<line x1="425.25" y1="89.2" x2="425.25" y2="90.4" stroke="#000" stroke-width="0.7"/>
<line x1="427.05" y1="89.2" x2="427.05" y2="90.4" stroke="#000" stroke-width="0.7"/>
<line x1="428.62" y1="89.2" x2="428.62" y2="90.4" stroke="#000" stroke-width="0.7"/>
<line x1="429.99" y1="89.2" x2="429.99" y2="90.4" stroke="#000" stroke-width="0.7"/>
<text transform="translate(404.30,97.40) scale(0.82,1)" font-size="5.3" font-weight="bold" text-anchor="middle" font-family="Liberation Sans" stroke="#000" stroke-width="0.25">10</text>
<text x="406.80" y="94.60" font-size="3.6" font-weight="bold" font-family="Liberation Sans" stroke="#000" stroke-width="0.15">0</text>
<line x1="431.23" y1="89.2" x2="431.23" y2="91.2" stroke="#000" stroke-width="0.9"/>
<line x1="439.33" y1="89.2" x2="439.33" y2="90.4" stroke="#000" stroke-width="0.7"/>
<line x1="444.07" y1="89.2" x2="444.07" y2="90.4" stroke="#000" stroke-width="0.7"/>
<line x1="447.44" y1="89.2" x2="447.44" y2="90.4" stroke="#000" stroke-width="0.7"/>
<line x1="450.04" y1="89.2" x2="450.04" y2="90.4" stroke="#000" stroke-width="0.7"/>
<line x1="452.18" y1="89.2" x2="452.18" y2="90.4" stroke="#000" stroke-width="0.7"/>
<line x1="453.98" y1="89.2" x2="453.98" y2="90.4" stroke="#000" stroke-width="0.7"/>
<line x1="455.54" y1="89.2" x2="455.54" y2="90.4" stroke="#000" stroke-width="0.7"/>
<line x1="456.92" y1="89.2" x2="456.92" y2="90.4" stroke="#000" stroke-width="0.7"/>
<text transform="translate(431.23,97.40) scale(0.82,1)" font-size="5.3" font-weight="bold" text-anchor="middle" font-family="Liberation Sans" stroke="#000" stroke-width="0.25">10</text>
<text x="433.73" y="94.60" font-size="3.6" font-weight="bold" font-family="Liberation Sans" stroke="#000" stroke-width="0.15">1</text>
<line x1="458.15" y1="89.2" x2="458.15" y2="91.2" stroke="#000" stroke-width="0.9"/>
<line x1="466.26" y1="89.2" x2="466.26" y2="90.4" stroke="#000" stroke-width="0.7"/>
<line x1="471.00" y1="89.2" x2="471.00" y2="90.4" stroke="#000" stroke-width="0.7"/>
<line x1="474.36" y1="89.2" x2="474.36" y2="90.4" stroke="#000" stroke-width="0.7"/>
<line x1="476.97" y1="89.2" x2="476.97" y2="90.4" stroke="#000" stroke-width="0.7"/>
<line x1="479.10" y1="89.2" x2="479.10" y2="90.4" stroke="#000" stroke-width="0.7"/>
<line x1="480.90" y1="89.2" x2="480.90" y2="90.4" stroke="#000" stroke-width="0.7"/>
<line x1="482.47" y1="89.2" x2="482.47" y2="90.4" stroke="#000" stroke-width="0.7"/>
<line x1="483.84" y1="89.2" x2="483.84" y2="90.4" stroke="#000" stroke-width="0.7"/>
<text transform="translate(458.15,97.40) scale(0.82,1)" font-size="5.3" font-weight="bold" text-anchor="middle" font-family="Liberation Sans" stroke="#000" stroke-width="0.25">10</text>
<text x="460.65" y="94.60" font-size="3.6" font-weight="bold" font-family="Liberation Sans" stroke="#000" stroke-width="0.15">2</text>
<line x1="485.07" y1="89.2" x2="485.07" y2="91.2" stroke="#000" stroke-width="0.9"/>
<line x1="493.18" y1="89.2" x2="493.18" y2="90.4" stroke="#000" stroke-width="0.7"/>
<line x1="497.92" y1="89.2" x2="497.92" y2="90.4" stroke="#000" stroke-width="0.7"/>
<line x1="501.29" y1="89.2" x2="501.29" y2="90.4" stroke="#000" stroke-width="0.7"/>
<line x1="503.89" y1="89.2" x2="503.89" y2="90.4" stroke="#000" stroke-width="0.7"/>
<line x1="506.03" y1="89.2" x2="506.03" y2="90.4" stroke="#000" stroke-width="0.7"/>
<line x1="507.83" y1="89.2" x2="507.83" y2="90.4" stroke="#000" stroke-width="0.7"/>
<line x1="509.39" y1="89.2" x2="509.39" y2="90.4" stroke="#000" stroke-width="0.7"/>
<line x1="510.77" y1="89.2" x2="510.77" y2="90.4" stroke="#000" stroke-width="0.7"/>
<text transform="translate(485.07,97.40) scale(0.82,1)" font-size="5.3" font-weight="bold" text-anchor="middle" font-family="Liberation Sans" stroke="#000" stroke-width="0.25">10</text>
<text x="487.57" y="94.60" font-size="3.6" font-weight="bold" font-family="Liberation Sans" stroke="#000" stroke-width="0.15">3</text>
<line x1="512.00" y1="89.2" x2="512.00" y2="91.2" stroke="#000" stroke-width="0.9"/>
<text transform="translate(512.00,97.40) scale(0.82,1)" font-size="5.3" font-weight="bold" text-anchor="middle" font-family="Liberation Sans" stroke="#000" stroke-width="0.25">10</text>
<text x="514.50" y="94.60" font-size="3.6" font-weight="bold" font-family="Liberation Sans" stroke="#000" stroke-width="0.15">4</text>
<text x="459.80" y="101.50" font-size="4.6" font-weight="bold" text-anchor="middle" font-family="Liberation Sans" stroke="#000" stroke-width="0.25">FL2-H</text>
<line x1="402.5" y1="89.20" x2="404.3" y2="89.20" stroke="#000" stroke-width="0.9"/>
<text transform="translate(402.00,89.20) rotate(-90)" x="0" y="0" font-size="5.2" font-weight="bold" text-anchor="middle" font-family="Liberation Sans" stroke="#000" stroke-width="0.35">0</text>
<line x1="402.5" y1="78.00" x2="404.3" y2="78.00" stroke="#000" stroke-width="0.9"/>
<text transform="translate(402.00,78.00) rotate(-90)" x="0" y="0" font-size="5.2" font-weight="bold" text-anchor="middle" font-family="Liberation Sans" stroke="#000" stroke-width="0.35">10</text>
<line x1="402.5" y1="66.80" x2="404.3" y2="66.80" stroke="#000" stroke-width="0.9"/>
<text transform="translate(402.00,66.80) rotate(-90)" x="0" y="0" font-size="5.2" font-weight="bold" text-anchor="middle" font-family="Liberation Sans" stroke="#000" stroke-width="0.35">20</text>
<line x1="402.5" y1="55.60" x2="404.3" y2="55.60" stroke="#000" stroke-width="0.9"/>
<text transform="translate(402.00,55.60) rotate(-90)" x="0" y="0" font-size="5.2" font-weight="bold" text-anchor="middle" font-family="Liberation Sans" stroke="#000" stroke-width="0.35">30</text>
<line x1="402.5" y1="44.40" x2="404.3" y2="44.40" stroke="#000" stroke-width="0.9"/>
<text transform="translate(402.00,44.40) rotate(-90)" x="0" y="0" font-size="5.2" font-weight="bold" text-anchor="middle" font-family="Liberation Sans" stroke="#000" stroke-width="0.35">40</text>
<line x1="402.5" y1="33.20" x2="404.3" y2="33.20" stroke="#000" stroke-width="0.9"/>
<text transform="translate(402.00,33.20) rotate(-90)" x="0" y="0" font-size="5.2" font-weight="bold" text-anchor="middle" font-family="Liberation Sans" stroke="#000" stroke-width="0.35">50</text>
<line x1="402.5" y1="22.00" x2="404.3" y2="22.00" stroke="#000" stroke-width="0.9"/>
<text transform="translate(402.00,22.00) rotate(-90)" x="0" y="0" font-size="5.2" font-weight="bold" text-anchor="middle" font-family="Liberation Sans" stroke="#000" stroke-width="0.35">60</text>
<line x1="403.3" y1="89.20" x2="404.3" y2="89.20" stroke="#000" stroke-width="0.6"/>
<line x1="403.3" y1="86.96" x2="404.3" y2="86.96" stroke="#000" stroke-width="0.6"/>
<line x1="403.3" y1="84.72" x2="404.3" y2="84.72" stroke="#000" stroke-width="0.6"/>
<line x1="403.3" y1="82.48" x2="404.3" y2="82.48" stroke="#000" stroke-width="0.6"/>
<line x1="403.3" y1="80.24" x2="404.3" y2="80.24" stroke="#000" stroke-width="0.6"/>
<line x1="403.3" y1="78.00" x2="404.3" y2="78.00" stroke="#000" stroke-width="0.6"/>
<line x1="403.3" y1="75.76" x2="404.3" y2="75.76" stroke="#000" stroke-width="0.6"/>
<line x1="403.3" y1="73.52" x2="404.3" y2="73.52" stroke="#000" stroke-width="0.6"/>
<line x1="403.3" y1="71.28" x2="404.3" y2="71.28" stroke="#000" stroke-width="0.6"/>
<line x1="403.3" y1="69.04" x2="404.3" y2="69.04" stroke="#000" stroke-width="0.6"/>
<line x1="403.3" y1="66.80" x2="404.3" y2="66.80" stroke="#000" stroke-width="0.6"/>
<line x1="403.3" y1="64.56" x2="404.3" y2="64.56" stroke="#000" stroke-width="0.6"/>
<line x1="403.3" y1="62.32" x2="404.3" y2="62.32" stroke="#000" stroke-width="0.6"/>
<line x1="403.3" y1="60.08" x2="404.3" y2="60.08" stroke="#000" stroke-width="0.6"/>
<line x1="403.3" y1="57.84" x2="404.3" y2="57.84" stroke="#000" stroke-width="0.6"/>
<line x1="403.3" y1="55.60" x2="404.3" y2="55.60" stroke="#000" stroke-width="0.6"/>
<line x1="403.3" y1="53.36" x2="404.3" y2="53.36" stroke="#000" stroke-width="0.6"/>
<line x1="403.3" y1="51.12" x2="404.3" y2="51.12" stroke="#000" stroke-width="0.6"/>
<line x1="403.3" y1="48.88" x2="404.3" y2="48.88" stroke="#000" stroke-width="0.6"/>
<line x1="403.3" y1="46.64" x2="404.3" y2="46.64" stroke="#000" stroke-width="0.6"/>
<line x1="403.3" y1="44.40" x2="404.3" y2="44.40" stroke="#000" stroke-width="0.6"/>
<line x1="403.3" y1="42.16" x2="404.3" y2="42.16" stroke="#000" stroke-width="0.6"/>
<line x1="403.3" y1="39.92" x2="404.3" y2="39.92" stroke="#000" stroke-width="0.6"/>
<line x1="403.3" y1="37.68" x2="404.3" y2="37.68" stroke="#000" stroke-width="0.6"/>
<line x1="403.3" y1="35.44" x2="404.3" y2="35.44" stroke="#000" stroke-width="0.6"/>
<line x1="403.3" y1="33.20" x2="404.3" y2="33.20" stroke="#000" stroke-width="0.6"/>
<line x1="403.3" y1="30.96" x2="404.3" y2="30.96" stroke="#000" stroke-width="0.6"/>
<line x1="403.3" y1="28.72" x2="404.3" y2="28.72" stroke="#000" stroke-width="0.6"/>
<line x1="403.3" y1="26.48" x2="404.3" y2="26.48" stroke="#000" stroke-width="0.6"/>
<line x1="403.3" y1="24.24" x2="404.3" y2="24.24" stroke="#000" stroke-width="0.6"/>
<line x1="403.3" y1="22.00" x2="404.3" y2="22.00" stroke="#000" stroke-width="0.6"/>
<text transform="translate(396.40,56.94) rotate(-90)" x="0" y="0" font-size="4.6" font-weight="bold" text-anchor="middle" font-family="Liberation Sans" stroke="#000" stroke-width="0.2">Counts</text>
<polygon points="130.10,193.20 130.10,144.68 130.50,144.68 130.88,139.38 131.25,143.23 131.62,146.80 132.00,146.86 132.40,147.97 132.80,142.49 133.20,147.67 133.60,149.22 133.95,152.43 134.30,146.67 134.65,148.70 135.00,150.09 135.40,152.34 135.80,149.33 136.20,153.36 136.60,148.91 137.00,151.64 137.40,149.53 137.80,150.98 138.20,148.74 138.60,146.34 139.00,152.64 139.40,150.54 139.80,148.24 140.20,149.89 140.60,151.61 141.00,146.61 141.40,149.13 141.80,151.11 142.20,151.47 142.60,149.79 143.00,147.17 143.40,155.33 143.80,154.56 144.20,155.23 144.60,155.97 145.00,158.58 145.40,159.49 145.80,160.68 146.20,163.72 146.60,166.45 147.00,168.87 147.40,169.95 147.80,175.08 148.20,173.88 148.60,179.01 149.00,178.53 149.40,182.08 149.80,184.98 150.20,185.05 150.60,185.59 151.00,188.05 151.43,188.57 151.86,187.36 152.29,188.74 152.71,189.86 153.14,189.75 153.57,190.63 154.00,191.54 154.44,191.71 154.89,191.95 155.33,191.87 155.78,191.43 156.22,191.77 156.67,191.76 157.11,191.90 157.56,192.14 158.00,191.53 158.44,192.29 158.89,192.52 159.33,192.11 159.78,192.65 160.22,192.98 160.67,192.72 161.11,193.20 161.56,192.26 162.00,192.92 162.00,193.20" fill="#bdbdbd" stroke="none"/>
<polyline points="130.50,144.68 130.88,139.38 131.25,143.23 131.62,146.80 132.00,146.86 132.40,147.97 132.80,142.49 133.20,147.67 133.60,149.22 133.95,152.43 134.30,146.67 134.65,148.70 135.00,150.09 135.40,152.34 135.80,149.33 136.20,153.36 136.60,148.91 137.00,151.64 137.40,149.53 137.80,150.98 138.20,148.74 138.60,146.34 139.00,152.64 139.40,150.54 139.80,148.24 140.20,149.89 140.60,151.61 141.00,146.61 141.40,149.13 141.80,151.11 142.20,151.47 142.60,149.79 143.00,147.17 143.40,155.33 143.80,154.56 144.20,155.23 144.60,155.97 145.00,158.58 145.40,159.49 145.80,160.68 146.20,163.72 146.60,166.45 147.00,168.87 147.40,169.95 147.80,175.08 148.20,173.88 148.60,179.01 149.00,178.53 149.40,182.08 149.80,184.98 150.20,185.05 150.60,185.59 151.00,188.05 151.43,188.57 151.86,187.36 152.29,188.74 152.71,189.86 153.14,189.75 153.57,190.63 154.00,191.54 154.44,191.71 154.89,191.95 155.33,191.87 155.78,191.43 156.22,191.77 156.67,191.76 157.11,191.90 157.56,192.14 158.00,191.53 158.44,192.29 158.89,192.52 159.33,192.11 159.78,192.65 160.22,192.98 160.67,192.72 161.11,193.20 161.56,192.26 162.00,192.92" fill="none" stroke="#000" stroke-width="1.1" stroke-linejoin="round"/>
<polyline points="133.00,141.00 133.80,166.00 134.60,142.00" fill="none" stroke="#000" stroke-width="1.3"/>
<polygon points="136.10,135.50 137.70,137.50 139.30,133.00 141.20,142.00 143.50,138.50 145.30,139.50 146.50,131.00 148.10,139.50 149.20,143.00 148.00,149.00 146.00,152.00 143.00,151.00 140.50,150.00 138.00,152.00 136.50,150.00 135.50,142.00" fill="#222" stroke="none"/>
<polyline points="130.50,134.67 130.88,141.47 131.26,142.62 131.64,132.55 132.02,136.96 132.40,137.44 132.85,136.16 133.30,139.81 133.75,134.72 134.20,142.94 134.58,140.42 134.96,138.25 135.34,135.29 135.72,137.76 136.10,133.24 136.50,135.94 136.90,134.33 137.30,131.68 137.70,136.91 138.10,136.45 138.50,136.97 138.90,130.90 139.30,132.30 139.68,136.10 140.06,136.51 140.44,141.56 140.82,144.37 141.20,139.02 141.58,136.47 141.97,142.92 142.35,144.30 142.73,142.00 143.12,141.13 143.50,136.39 143.86,136.34 144.22,141.22 144.58,136.21 144.94,134.44 145.30,136.41 145.70,140.98 146.10,138.03 146.50,127.97 146.90,130.17 147.30,135.40 147.70,134.79 148.10,143.09 148.48,139.77 148.86,137.59 149.24,145.12 149.62,140.45 150.00,143.42 150.37,144.30 150.73,145.01 151.10,148.27 151.50,148.66 151.90,149.51 152.30,152.72 152.70,156.22 153.10,160.08 153.50,164.35 153.90,167.12 154.30,170.44 154.70,171.88 155.10,172.52 155.50,175.07 155.86,175.01 156.22,178.79 156.58,181.18 156.94,182.60 157.30,183.03 157.68,183.73 158.07,185.95 158.45,185.52 158.83,187.15 159.22,187.70 159.60,188.03 160.04,189.48 160.47,187.78 160.91,188.30 161.35,188.15 161.79,188.47 162.22,190.99 162.66,191.27 163.10,190.12 163.55,190.69 163.99,191.30 164.44,191.07 164.88,191.49 165.33,189.51 165.78,190.13 166.22,191.11 166.67,191.99 167.12,191.01 167.56,190.35 168.01,190.84 168.45,190.71 168.90,190.66 169.34,192.44 169.78,190.87 170.21,191.37 170.65,192.55 171.09,192.26 171.53,191.66 171.97,190.99 172.40,191.75 172.84,192.63 173.28,191.94 173.72,192.42 174.16,191.60 174.60,191.92 175.03,191.42 175.47,191.89 175.91,192.52 176.35,190.62 176.79,191.60 177.22,191.83 177.66,191.28 178.10,191.49 178.55,192.25 179.00,192.82 179.45,192.16 179.89,191.96 180.34,190.69 180.79,192.85 181.24,191.82 181.69,191.75 182.14,191.03 182.58,191.76 183.03,191.07 183.48,191.86 183.93,192.14 184.38,191.86 184.83,192.03 185.27,191.29 185.72,192.82 186.17,191.44 186.62,190.82 187.07,191.77 187.52,191.40 187.96,191.25 188.41,191.69 188.86,192.12 189.31,191.17 189.76,191.86 190.21,192.89 190.65,192.41 191.10,191.88 191.55,192.07 192.00,191.92" fill="none" stroke="#000" stroke-width="1.35" stroke-linejoin="round"/>
<rect x="129.8" y="125.0" width="109.0" height="68.80000000000001" fill="none" stroke="#000" stroke-width="1.2"/>
<line x1="129.80" y1="193.8" x2="129.80" y2="195.8" stroke="#000" stroke-width="0.9"/>
<line x1="138.00" y1="193.8" x2="138.00" y2="195.0" stroke="#000" stroke-width="0.7"/>
<line x1="142.80" y1="193.8" x2="142.80" y2="195.0" stroke="#000" stroke-width="0.7"/>
<line x1="146.21" y1="193.8" x2="146.21" y2="195.0" stroke="#000" stroke-width="0.7"/>
<line x1="148.85" y1="193.8" x2="148.85" y2="195.0" stroke="#000" stroke-width="0.7"/>
<line x1="151.00" y1="193.8" x2="151.00" y2="195.0" stroke="#000" stroke-width="0.7"/>
<line x1="152.83" y1="193.8" x2="152.83" y2="195.0" stroke="#000" stroke-width="0.7"/>
<line x1="154.41" y1="193.8" x2="154.41" y2="195.0" stroke="#000" stroke-width="0.7"/>
<line x1="155.80" y1="193.8" x2="155.80" y2="195.0" stroke="#000" stroke-width="0.7"/>
<text transform="translate(129.80,202.00) scale(0.82,1)" font-size="5.3" font-weight="bold" text-anchor="middle" font-family="Liberation Sans" stroke="#000" stroke-width="0.25">10</text>
<text x="132.30" y="199.20" font-size="3.6" font-weight="bold" font-family="Liberation Sans" stroke="#000" stroke-width="0.15">0</text>
<line x1="157.05" y1="193.8" x2="157.05" y2="195.8" stroke="#000" stroke-width="0.9"/>
<line x1="165.25" y1="193.8" x2="165.25" y2="195.0" stroke="#000" stroke-width="0.7"/>
<line x1="170.05" y1="193.8" x2="170.05" y2="195.0" stroke="#000" stroke-width="0.7"/>
<line x1="173.46" y1="193.8" x2="173.46" y2="195.0" stroke="#000" stroke-width="0.7"/>
<line x1="176.10" y1="193.8" x2="176.10" y2="195.0" stroke="#000" stroke-width="0.7"/>
<line x1="178.25" y1="193.8" x2="178.25" y2="195.0" stroke="#000" stroke-width="0.7"/>
<line x1="180.08" y1="193.8" x2="180.08" y2="195.0" stroke="#000" stroke-width="0.7"/>
<line x1="181.66" y1="193.8" x2="181.66" y2="195.0" stroke="#000" stroke-width="0.7"/>
<line x1="183.05" y1="193.8" x2="183.05" y2="195.0" stroke="#000" stroke-width="0.7"/>
<text transform="translate(157.05,202.00) scale(0.82,1)" font-size="5.3" font-weight="bold" text-anchor="middle" font-family="Liberation Sans" stroke="#000" stroke-width="0.25">10</text>
<text x="159.55" y="199.20" font-size="3.6" font-weight="bold" font-family="Liberation Sans" stroke="#000" stroke-width="0.15">1</text>
<line x1="184.30" y1="193.8" x2="184.30" y2="195.8" stroke="#000" stroke-width="0.9"/>
<line x1="192.50" y1="193.8" x2="192.50" y2="195.0" stroke="#000" stroke-width="0.7"/>
<line x1="197.30" y1="193.8" x2="197.30" y2="195.0" stroke="#000" stroke-width="0.7"/>
<line x1="200.71" y1="193.8" x2="200.71" y2="195.0" stroke="#000" stroke-width="0.7"/>
<line x1="203.35" y1="193.8" x2="203.35" y2="195.0" stroke="#000" stroke-width="0.7"/>
<line x1="205.50" y1="193.8" x2="205.50" y2="195.0" stroke="#000" stroke-width="0.7"/>
<line x1="207.33" y1="193.8" x2="207.33" y2="195.0" stroke="#000" stroke-width="0.7"/>
<line x1="208.91" y1="193.8" x2="208.91" y2="195.0" stroke="#000" stroke-width="0.7"/>
<line x1="210.30" y1="193.8" x2="210.30" y2="195.0" stroke="#000" stroke-width="0.7"/>
<text transform="translate(184.30,202.00) scale(0.82,1)" font-size="5.3" font-weight="bold" text-anchor="middle" font-family="Liberation Sans" stroke="#000" stroke-width="0.25">10</text>
<text x="186.80" y="199.20" font-size="3.6" font-weight="bold" font-family="Liberation Sans" stroke="#000" stroke-width="0.15">2</text>
<line x1="211.55" y1="193.8" x2="211.55" y2="195.8" stroke="#000" stroke-width="0.9"/>
<line x1="219.75" y1="193.8" x2="219.75" y2="195.0" stroke="#000" stroke-width="0.7"/>
<line x1="224.55" y1="193.8" x2="224.55" y2="195.0" stroke="#000" stroke-width="0.7"/>
<line x1="227.96" y1="193.8" x2="227.96" y2="195.0" stroke="#000" stroke-width="0.7"/>
<line x1="230.60" y1="193.8" x2="230.60" y2="195.0" stroke="#000" stroke-width="0.7"/>
<line x1="232.75" y1="193.8" x2="232.75" y2="195.0" stroke="#000" stroke-width="0.7"/>
<line x1="234.58" y1="193.8" x2="234.58" y2="195.0" stroke="#000" stroke-width="0.7"/>
<line x1="236.16" y1="193.8" x2="236.16" y2="195.0" stroke="#000" stroke-width="0.7"/>
<line x1="237.55" y1="193.8" x2="237.55" y2="195.0" stroke="#000" stroke-width="0.7"/>
<text transform="translate(211.55,202.00) scale(0.82,1)" font-size="5.3" font-weight="bold" text-anchor="middle" font-family="Liberation Sans" stroke="#000" stroke-width="0.25">10</text>
<text x="214.05" y="199.20" font-size="3.6" font-weight="bold" font-family="Liberation Sans" stroke="#000" stroke-width="0.15">3</text>
<line x1="238.80" y1="193.8" x2="238.80" y2="195.8" stroke="#000" stroke-width="0.9"/>
<text transform="translate(238.80,202.00) scale(0.82,1)" font-size="5.3" font-weight="bold" text-anchor="middle" font-family="Liberation Sans" stroke="#000" stroke-width="0.25">10</text>
<text x="241.30" y="199.20" font-size="3.6" font-weight="bold" font-family="Liberation Sans" stroke="#000" stroke-width="0.15">4</text>
<text x="185.30" y="206.10" font-size="4.6" font-weight="bold" text-anchor="middle" font-family="Liberation Sans" stroke="#000" stroke-width="0.25">FL2-H</text>
<line x1="128.0" y1="193.80" x2="129.8" y2="193.80" stroke="#000" stroke-width="0.9"/>
<text transform="translate(127.50,193.80) rotate(-90)" x="0" y="0" font-size="5.2" font-weight="bold" text-anchor="middle" font-family="Liberation Sans" stroke="#000" stroke-width="0.35">0</text>
<line x1="128.0" y1="182.33" x2="129.8" y2="182.33" stroke="#000" stroke-width="0.9"/>
<text transform="translate(127.50,182.33) rotate(-90)" x="0" y="0" font-size="5.2" font-weight="bold" text-anchor="middle" font-family="Liberation Sans" stroke="#000" stroke-width="0.35">10</text>
<line x1="128.0" y1="170.87" x2="129.8" y2="170.87" stroke="#000" stroke-width="0.9"/>
<text transform="translate(127.50,170.87) rotate(-90)" x="0" y="0" font-size="5.2" font-weight="bold" text-anchor="middle" font-family="Liberation Sans" stroke="#000" stroke-width="0.35">20</text>
<line x1="128.0" y1="159.40" x2="129.8" y2="159.40" stroke="#000" stroke-width="0.9"/>
<text transform="translate(127.50,159.40) rotate(-90)" x="0" y="0" font-size="5.2" font-weight="bold" text-anchor="middle" font-family="Liberation Sans" stroke="#000" stroke-width="0.35">30</text>
<line x1="128.0" y1="147.93" x2="129.8" y2="147.93" stroke="#000" stroke-width="0.9"/>
<text transform="translate(127.50,147.93) rotate(-90)" x="0" y="0" font-size="5.2" font-weight="bold" text-anchor="middle" font-family="Liberation Sans" stroke="#000" stroke-width="0.35">40</text>
<line x1="128.0" y1="136.47" x2="129.8" y2="136.47" stroke="#000" stroke-width="0.9"/>
<text transform="translate(127.50,136.47) rotate(-90)" x="0" y="0" font-size="5.2" font-weight="bold" text-anchor="middle" font-family="Liberation Sans" stroke="#000" stroke-width="0.35">50</text>
<line x1="128.0" y1="125.00" x2="129.8" y2="125.00" stroke="#000" stroke-width="0.9"/>
<text transform="translate(127.50,125.00) rotate(-90)" x="0" y="0" font-size="5.2" font-weight="bold" text-anchor="middle" font-family="Liberation Sans" stroke="#000" stroke-width="0.35">60</text>
<line x1="128.8" y1="193.80" x2="129.8" y2="193.80" stroke="#000" stroke-width="0.6"/>
<line x1="128.8" y1="191.51" x2="129.8" y2="191.51" stroke="#000" stroke-width="0.6"/>
<line x1="128.8" y1="189.21" x2="129.8" y2="189.21" stroke="#000" stroke-width="0.6"/>
<line x1="128.8" y1="186.92" x2="129.8" y2="186.92" stroke="#000" stroke-width="0.6"/>
<line x1="128.8" y1="184.63" x2="129.8" y2="184.63" stroke="#000" stroke-width="0.6"/>
<line x1="128.8" y1="182.33" x2="129.8" y2="182.33" stroke="#000" stroke-width="0.6"/>
<line x1="128.8" y1="180.04" x2="129.8" y2="180.04" stroke="#000" stroke-width="0.6"/>
<line x1="128.8" y1="177.75" x2="129.8" y2="177.75" stroke="#000" stroke-width="0.6"/>
<line x1="128.8" y1="175.45" x2="129.8" y2="175.45" stroke="#000" stroke-width="0.6"/>
<line x1="128.8" y1="173.16" x2="129.8" y2="173.16" stroke="#000" stroke-width="0.6"/>
<line x1="128.8" y1="170.87" x2="129.8" y2="170.87" stroke="#000" stroke-width="0.6"/>
<line x1="128.8" y1="168.57" x2="129.8" y2="168.57" stroke="#000" stroke-width="0.6"/>
<line x1="128.8" y1="166.28" x2="129.8" y2="166.28" stroke="#000" stroke-width="0.6"/>
<line x1="128.8" y1="163.99" x2="129.8" y2="163.99" stroke="#000" stroke-width="0.6"/>
<line x1="128.8" y1="161.69" x2="129.8" y2="161.69" stroke="#000" stroke-width="0.6"/>
<line x1="128.8" y1="159.40" x2="129.8" y2="159.40" stroke="#000" stroke-width="0.6"/>
<line x1="128.8" y1="157.11" x2="129.8" y2="157.11" stroke="#000" stroke-width="0.6"/>
<line x1="128.8" y1="154.81" x2="129.8" y2="154.81" stroke="#000" stroke-width="0.6"/>
<line x1="128.8" y1="152.52" x2="129.8" y2="152.52" stroke="#000" stroke-width="0.6"/>
<line x1="128.8" y1="150.23" x2="129.8" y2="150.23" stroke="#000" stroke-width="0.6"/>
<line x1="128.8" y1="147.93" x2="129.8" y2="147.93" stroke="#000" stroke-width="0.6"/>
<line x1="128.8" y1="145.64" x2="129.8" y2="145.64" stroke="#000" stroke-width="0.6"/>
<line x1="128.8" y1="143.35" x2="129.8" y2="143.35" stroke="#000" stroke-width="0.6"/>
<line x1="128.8" y1="141.05" x2="129.8" y2="141.05" stroke="#000" stroke-width="0.6"/>
<line x1="128.8" y1="138.76" x2="129.8" y2="138.76" stroke="#000" stroke-width="0.6"/>
<line x1="128.8" y1="136.47" x2="129.8" y2="136.47" stroke="#000" stroke-width="0.6"/>
<line x1="128.8" y1="134.17" x2="129.8" y2="134.17" stroke="#000" stroke-width="0.6"/>
<line x1="128.8" y1="131.88" x2="129.8" y2="131.88" stroke="#000" stroke-width="0.6"/>
<line x1="128.8" y1="129.59" x2="129.8" y2="129.59" stroke="#000" stroke-width="0.6"/>
<line x1="128.8" y1="127.29" x2="129.8" y2="127.29" stroke="#000" stroke-width="0.6"/>
<line x1="128.8" y1="125.00" x2="129.8" y2="125.00" stroke="#000" stroke-width="0.6"/>
<text transform="translate(121.90,160.78) rotate(-90)" x="0" y="0" font-size="4.6" font-weight="bold" text-anchor="middle" font-family="Liberation Sans" stroke="#000" stroke-width="0.2">Counts</text>
<polygon points="266.50,193.40 266.50,148.48 267.10,148.48 267.55,149.54 268.00,146.62 268.45,141.94 268.90,145.05 269.28,142.63 269.67,146.36 270.05,142.94 270.43,144.68 270.82,148.21 271.20,141.21 271.58,140.06 271.96,138.37 272.34,136.92 272.72,135.97 273.10,140.28 273.50,134.95 273.90,129.63 274.30,127.28 274.70,130.69 275.10,128.71 275.50,131.92 275.90,135.89 276.30,140.70 276.68,141.81 277.06,140.72 277.44,138.77 277.82,139.33 278.20,143.58 278.56,141.79 278.92,135.69 279.28,136.43 279.64,134.58 280.00,132.55 280.40,132.45 280.80,131.63 281.20,135.29 281.60,134.03 282.00,144.30 282.40,145.33 282.80,143.81 283.20,153.09 283.58,154.14 283.96,150.64 284.34,160.26 284.72,160.75 285.10,164.69 285.55,161.67 286.00,168.08 286.45,170.71 286.90,173.15 287.32,175.38 287.75,179.05 288.18,177.50 288.60,180.31 288.98,181.26 289.37,183.47 289.75,184.53 290.13,186.75 290.52,187.70 290.90,188.53 291.28,188.33 291.67,189.03 292.05,190.73 292.43,191.00 292.82,190.91 293.20,191.07 293.65,192.48 294.09,190.98 294.54,191.92 294.98,192.33 295.43,191.38 295.88,192.19 296.32,190.91 296.77,192.42 297.22,191.92 297.66,190.79 298.11,192.33 298.55,191.37 299.00,192.82 299.44,191.66 299.89,192.08 300.33,192.44 300.78,192.16 301.22,192.59 301.67,192.23 302.11,192.99 302.56,192.71 303.00,192.91 303.00,193.40" fill="#bdbdbd" stroke="none"/>
<polyline points="267.10,148.48 267.55,149.54 268.00,146.62 268.45,141.94 268.90,145.05 269.28,142.63 269.67,146.36 270.05,142.94 270.43,144.68 270.82,148.21 271.20,141.21 271.58,140.06 271.96,138.37 272.34,136.92 272.72,135.97 273.10,140.28 273.50,134.95 273.90,129.63 274.30,127.28 274.70,130.69 275.10,128.71 275.50,131.92 275.90,135.89 276.30,140.70 276.68,141.81 277.06,140.72 277.44,138.77 277.82,139.33 278.20,143.58 278.56,141.79 278.92,135.69 279.28,136.43 279.64,134.58 280.00,132.55 280.40,132.45 280.80,131.63 281.20,135.29 281.60,134.03 282.00,144.30 282.40,145.33 282.80,143.81 283.20,153.09 283.58,154.14 283.96,150.64 284.34,160.26 284.72,160.75 285.10,164.69 285.55,161.67 286.00,168.08 286.45,170.71 286.90,173.15 287.32,175.38 287.75,179.05 288.18,177.50 288.60,180.31 288.98,181.26 289.37,183.47 289.75,184.53 290.13,186.75 290.52,187.70 290.90,188.53 291.28,188.33 291.67,189.03 292.05,190.73 292.43,191.00 292.82,190.91 293.20,191.07 293.65,192.48 294.09,190.98 294.54,191.92 294.98,192.33 295.43,191.38 295.88,192.19 296.32,190.91 296.77,192.42 297.22,191.92 297.66,190.79 298.11,192.33 298.55,191.37 299.00,192.82 299.44,191.66 299.89,192.08 300.33,192.44 300.78,192.16 301.22,192.59 301.67,192.23 302.11,192.99 302.56,192.71 303.00,192.91" fill="none" stroke="#000" stroke-width="1.1" stroke-linejoin="round"/>
<polyline points="267.10,178.46 267.55,183.21 268.00,182.10 268.45,180.33 268.90,183.33 269.28,182.73 269.67,182.53 270.05,178.04 270.43,181.13 270.82,177.18 271.20,179.08 271.58,175.66 271.97,176.74 272.35,174.49 272.73,172.75 273.12,176.38 273.50,175.66 273.90,176.46 274.30,174.83 274.70,171.77 275.10,169.43 275.50,170.84 275.90,170.40 276.28,169.13 276.67,170.93 277.05,169.47 277.43,167.27 277.82,167.23 278.20,165.59 278.58,165.59 278.97,166.01 279.35,165.73 279.73,161.30 280.12,158.65 280.50,164.57 280.86,160.17 281.22,161.13 281.58,153.23 281.94,154.89 282.30,154.37 282.70,148.30 283.10,148.34 283.50,149.35 283.90,148.07 284.32,148.65 284.75,140.93 285.18,138.52 285.60,143.08 286.05,143.44 286.50,140.46 286.95,135.27 287.40,140.49 287.80,139.95 288.20,138.68 288.60,135.03 289.00,136.81 289.38,139.61 289.76,137.03 290.14,135.43 290.52,142.35 290.90,144.15 291.26,143.06 291.62,145.73 291.98,141.82 292.34,143.45 292.70,143.05 293.10,146.65 293.50,150.59 293.90,146.75 294.30,152.86 294.68,153.58 295.07,152.56 295.45,152.97 295.83,156.49 296.22,152.89 296.60,154.02 297.00,153.03 297.40,158.15 297.80,161.55 298.20,160.95 298.60,162.02 299.00,161.95 299.38,164.12 299.77,162.01 300.15,168.67 300.53,166.95 300.92,166.92 301.30,169.02 301.68,169.87 302.07,174.06 302.45,175.37 302.83,171.89 303.22,176.98 303.60,177.84 304.05,176.27 304.50,175.74 304.95,177.95 305.40,179.11 305.85,181.57 306.30,181.48 306.73,180.38 307.16,183.67 307.59,181.94 308.01,185.87 308.44,183.82 308.87,185.18 309.30,185.69 309.74,186.50 310.18,189.00 310.61,188.90 311.05,189.03 311.49,189.15 311.93,187.73 312.36,189.18 312.80,189.60 313.25,189.35 313.69,190.79 314.14,189.83 314.58,189.99 315.03,189.84 315.48,189.52 315.92,191.44 316.37,192.15 316.82,191.34 317.26,190.58 317.71,190.25 318.15,191.70 318.60,192.57 319.03,191.94 319.47,192.42 319.90,192.83 320.33,192.61 320.77,191.54 321.20,192.61 321.63,192.44 322.07,190.88 322.50,191.69 322.93,191.03 323.37,191.95 323.80,192.44 324.23,191.37 324.67,191.05 325.10,192.99 325.53,192.41 325.97,193.14 326.40,191.38 326.83,192.93 327.27,193.29 327.70,193.31 328.13,192.21 328.57,192.54 329.00,192.31 329.45,193.03 329.90,193.08 330.35,192.54 330.80,191.72 331.25,192.98 331.70,192.31 332.15,192.97 332.60,192.79 333.05,193.40 333.50,193.33 333.95,192.48 334.40,192.95 334.85,193.40 335.30,192.54 335.75,193.07 336.20,193.40 336.65,193.40 337.10,193.20 337.55,192.33 338.00,192.40" fill="none" stroke="#000" stroke-width="1.35" stroke-linejoin="round"/>
<rect x="266.2" y="127.5" width="111.80000000000001" height="66.5" fill="none" stroke="#000" stroke-width="1.2"/>
<line x1="266.20" y1="194.0" x2="266.20" y2="196.0" stroke="#000" stroke-width="0.9"/>
<line x1="274.61" y1="194.0" x2="274.61" y2="195.2" stroke="#000" stroke-width="0.7"/>
<line x1="279.54" y1="194.0" x2="279.54" y2="195.2" stroke="#000" stroke-width="0.7"/>
<line x1="283.03" y1="194.0" x2="283.03" y2="195.2" stroke="#000" stroke-width="0.7"/>
<line x1="285.74" y1="194.0" x2="285.74" y2="195.2" stroke="#000" stroke-width="0.7"/>
<line x1="287.95" y1="194.0" x2="287.95" y2="195.2" stroke="#000" stroke-width="0.7"/>
<line x1="289.82" y1="194.0" x2="289.82" y2="195.2" stroke="#000" stroke-width="0.7"/>
<line x1="291.44" y1="194.0" x2="291.44" y2="195.2" stroke="#000" stroke-width="0.7"/>
<line x1="292.87" y1="194.0" x2="292.87" y2="195.2" stroke="#000" stroke-width="0.7"/>
<text transform="translate(266.20,202.20) scale(0.82,1)" font-size="5.3" font-weight="bold" text-anchor="middle" font-family="Liberation Sans" stroke="#000" stroke-width="0.25">10</text>
<text x="268.70" y="199.40" font-size="3.6" font-weight="bold" font-family="Liberation Sans" stroke="#000" stroke-width="0.15">0</text>
<line x1="294.15" y1="194.0" x2="294.15" y2="196.0" stroke="#000" stroke-width="0.9"/>
<line x1="302.56" y1="194.0" x2="302.56" y2="195.2" stroke="#000" stroke-width="0.7"/>
<line x1="307.49" y1="194.0" x2="307.49" y2="195.2" stroke="#000" stroke-width="0.7"/>
<line x1="310.98" y1="194.0" x2="310.98" y2="195.2" stroke="#000" stroke-width="0.7"/>
<line x1="313.69" y1="194.0" x2="313.69" y2="195.2" stroke="#000" stroke-width="0.7"/>
<line x1="315.90" y1="194.0" x2="315.90" y2="195.2" stroke="#000" stroke-width="0.7"/>
<line x1="317.77" y1="194.0" x2="317.77" y2="195.2" stroke="#000" stroke-width="0.7"/>
<line x1="319.39" y1="194.0" x2="319.39" y2="195.2" stroke="#000" stroke-width="0.7"/>
<line x1="320.82" y1="194.0" x2="320.82" y2="195.2" stroke="#000" stroke-width="0.7"/>
<text transform="translate(294.15,202.20) scale(0.82,1)" font-size="5.3" font-weight="bold" text-anchor="middle" font-family="Liberation Sans" stroke="#000" stroke-width="0.25">10</text>
<text x="296.65" y="199.40" font-size="3.6" font-weight="bold" font-family="Liberation Sans" stroke="#000" stroke-width="0.15">1</text>
<line x1="322.10" y1="194.0" x2="322.10" y2="196.0" stroke="#000" stroke-width="0.9"/>
<line x1="330.51" y1="194.0" x2="330.51" y2="195.2" stroke="#000" stroke-width="0.7"/>
<line x1="335.44" y1="194.0" x2="335.44" y2="195.2" stroke="#000" stroke-width="0.7"/>
<line x1="338.93" y1="194.0" x2="338.93" y2="195.2" stroke="#000" stroke-width="0.7"/>
<line x1="341.64" y1="194.0" x2="341.64" y2="195.2" stroke="#000" stroke-width="0.7"/>
<line x1="343.85" y1="194.0" x2="343.85" y2="195.2" stroke="#000" stroke-width="0.7"/>
<line x1="345.72" y1="194.0" x2="345.72" y2="195.2" stroke="#000" stroke-width="0.7"/>
<line x1="347.34" y1="194.0" x2="347.34" y2="195.2" stroke="#000" stroke-width="0.7"/>
<line x1="348.77" y1="194.0" x2="348.77" y2="195.2" stroke="#000" stroke-width="0.7"/>
<text transform="translate(322.10,202.20) scale(0.82,1)" font-size="5.3" font-weight="bold" text-anchor="middle" font-family="Liberation Sans" stroke="#000" stroke-width="0.25">10</text>
<text x="324.60" y="199.40" font-size="3.6" font-weight="bold" font-family="Liberation Sans" stroke="#000" stroke-width="0.15">2</text>
<line x1="350.05" y1="194.0" x2="350.05" y2="196.0" stroke="#000" stroke-width="0.9"/>
<line x1="358.46" y1="194.0" x2="358.46" y2="195.2" stroke="#000" stroke-width="0.7"/>
<line x1="363.39" y1="194.0" x2="363.39" y2="195.2" stroke="#000" stroke-width="0.7"/>
<line x1="366.88" y1="194.0" x2="366.88" y2="195.2" stroke="#000" stroke-width="0.7"/>
<line x1="369.59" y1="194.0" x2="369.59" y2="195.2" stroke="#000" stroke-width="0.7"/>
<line x1="371.80" y1="194.0" x2="371.80" y2="195.2" stroke="#000" stroke-width="0.7"/>
<line x1="373.67" y1="194.0" x2="373.67" y2="195.2" stroke="#000" stroke-width="0.7"/>
<line x1="375.29" y1="194.0" x2="375.29" y2="195.2" stroke="#000" stroke-width="0.7"/>
<line x1="376.72" y1="194.0" x2="376.72" y2="195.2" stroke="#000" stroke-width="0.7"/>
<text transform="translate(350.05,202.20) scale(0.82,1)" font-size="5.3" font-weight="bold" text-anchor="middle" font-family="Liberation Sans" stroke="#000" stroke-width="0.25">10</text>
<text x="352.55" y="199.40" font-size="3.6" font-weight="bold" font-family="Liberation Sans" stroke="#000" stroke-width="0.15">3</text>
<line x1="378.00" y1="194.0" x2="378.00" y2="196.0" stroke="#000" stroke-width="0.9"/>
<text transform="translate(378.00,202.20) scale(0.82,1)" font-size="5.3" font-weight="bold" text-anchor="middle" font-family="Liberation Sans" stroke="#000" stroke-width="0.25">10</text>
<text x="380.50" y="199.40" font-size="3.6" font-weight="bold" font-family="Liberation Sans" stroke="#000" stroke-width="0.15">4</text>
<text x="321.70" y="206.30" font-size="4.6" font-weight="bold" text-anchor="middle" font-family="Liberation Sans" stroke="#000" stroke-width="0.25">FL2-H</text>
<line x1="264.4" y1="194.00" x2="266.2" y2="194.00" stroke="#000" stroke-width="0.9"/>
<text transform="translate(263.90,194.00) rotate(-90)" x="0" y="0" font-size="5.2" font-weight="bold" text-anchor="middle" font-family="Liberation Sans" stroke="#000" stroke-width="0.35">0</text>
<line x1="264.4" y1="182.92" x2="266.2" y2="182.92" stroke="#000" stroke-width="0.9"/>
<text transform="translate(263.90,182.92) rotate(-90)" x="0" y="0" font-size="5.2" font-weight="bold" text-anchor="middle" font-family="Liberation Sans" stroke="#000" stroke-width="0.35">10</text>
<line x1="264.4" y1="171.83" x2="266.2" y2="171.83" stroke="#000" stroke-width="0.9"/>
<text transform="translate(263.90,171.83) rotate(-90)" x="0" y="0" font-size="5.2" font-weight="bold" text-anchor="middle" font-family="Liberation Sans" stroke="#000" stroke-width="0.35">20</text>
<line x1="264.4" y1="160.75" x2="266.2" y2="160.75" stroke="#000" stroke-width="0.9"/>
<text transform="translate(263.90,160.75) rotate(-90)" x="0" y="0" font-size="5.2" font-weight="bold" text-anchor="middle" font-family="Liberation Sans" stroke="#000" stroke-width="0.35">30</text>
<line x1="264.4" y1="149.67" x2="266.2" y2="149.67" stroke="#000" stroke-width="0.9"/>
<text transform="translate(263.90,149.67) rotate(-90)" x="0" y="0" font-size="5.2" font-weight="bold" text-anchor="middle" font-family="Liberation Sans" stroke="#000" stroke-width="0.35">40</text>
<line x1="264.4" y1="138.58" x2="266.2" y2="138.58" stroke="#000" stroke-width="0.9"/>
<text transform="translate(263.90,138.58) rotate(-90)" x="0" y="0" font-size="5.2" font-weight="bold" text-anchor="middle" font-family="Liberation Sans" stroke="#000" stroke-width="0.35">50</text>
<line x1="264.4" y1="127.50" x2="266.2" y2="127.50" stroke="#000" stroke-width="0.9"/>
<text transform="translate(263.90,127.50) rotate(-90)" x="0" y="0" font-size="5.2" font-weight="bold" text-anchor="middle" font-family="Liberation Sans" stroke="#000" stroke-width="0.35">60</text>
<line x1="265.2" y1="194.00" x2="266.2" y2="194.00" stroke="#000" stroke-width="0.6"/>
<line x1="265.2" y1="191.78" x2="266.2" y2="191.78" stroke="#000" stroke-width="0.6"/>
<line x1="265.2" y1="189.57" x2="266.2" y2="189.57" stroke="#000" stroke-width="0.6"/>
<line x1="265.2" y1="187.35" x2="266.2" y2="187.35" stroke="#000" stroke-width="0.6"/>
<line x1="265.2" y1="185.13" x2="266.2" y2="185.13" stroke="#000" stroke-width="0.6"/>
<line x1="265.2" y1="182.92" x2="266.2" y2="182.92" stroke="#000" stroke-width="0.6"/>
<line x1="265.2" y1="180.70" x2="266.2" y2="180.70" stroke="#000" stroke-width="0.6"/>
<line x1="265.2" y1="178.48" x2="266.2" y2="178.48" stroke="#000" stroke-width="0.6"/>
<line x1="265.2" y1="176.27" x2="266.2" y2="176.27" stroke="#000" stroke-width="0.6"/>
<line x1="265.2" y1="174.05" x2="266.2" y2="174.05" stroke="#000" stroke-width="0.6"/>
<line x1="265.2" y1="171.83" x2="266.2" y2="171.83" stroke="#000" stroke-width="0.6"/>
<line x1="265.2" y1="169.62" x2="266.2" y2="169.62" stroke="#000" stroke-width="0.6"/>
<line x1="265.2" y1="167.40" x2="266.2" y2="167.40" stroke="#000" stroke-width="0.6"/>
<line x1="265.2" y1="165.18" x2="266.2" y2="165.18" stroke="#000" stroke-width="0.6"/>
<line x1="265.2" y1="162.97" x2="266.2" y2="162.97" stroke="#000" stroke-width="0.6"/>
<line x1="265.2" y1="160.75" x2="266.2" y2="160.75" stroke="#000" stroke-width="0.6"/>
<line x1="265.2" y1="158.53" x2="266.2" y2="158.53" stroke="#000" stroke-width="0.6"/>
<line x1="265.2" y1="156.32" x2="266.2" y2="156.32" stroke="#000" stroke-width="0.6"/>
<line x1="265.2" y1="154.10" x2="266.2" y2="154.10" stroke="#000" stroke-width="0.6"/>
<line x1="265.2" y1="151.88" x2="266.2" y2="151.88" stroke="#000" stroke-width="0.6"/>
<line x1="265.2" y1="149.67" x2="266.2" y2="149.67" stroke="#000" stroke-width="0.6"/>
<line x1="265.2" y1="147.45" x2="266.2" y2="147.45" stroke="#000" stroke-width="0.6"/>
<line x1="265.2" y1="145.23" x2="266.2" y2="145.23" stroke="#000" stroke-width="0.6"/>
<line x1="265.2" y1="143.02" x2="266.2" y2="143.02" stroke="#000" stroke-width="0.6"/>
<line x1="265.2" y1="140.80" x2="266.2" y2="140.80" stroke="#000" stroke-width="0.6"/>
<line x1="265.2" y1="138.58" x2="266.2" y2="138.58" stroke="#000" stroke-width="0.6"/>
<line x1="265.2" y1="136.37" x2="266.2" y2="136.37" stroke="#000" stroke-width="0.6"/>
<line x1="265.2" y1="134.15" x2="266.2" y2="134.15" stroke="#000" stroke-width="0.6"/>
<line x1="265.2" y1="131.93" x2="266.2" y2="131.93" stroke="#000" stroke-width="0.6"/>
<line x1="265.2" y1="129.72" x2="266.2" y2="129.72" stroke="#000" stroke-width="0.6"/>
<line x1="265.2" y1="127.50" x2="266.2" y2="127.50" stroke="#000" stroke-width="0.6"/>
<text transform="translate(258.30,162.08) rotate(-90)" x="0" y="0" font-size="4.6" font-weight="bold" text-anchor="middle" font-family="Liberation Sans" stroke="#000" stroke-width="0.2">Counts</text>
<polygon points="405.80,192.70 405.80,150.30 405.80,150.30 406.20,149.20 406.60,150.78 407.00,143.18 407.40,146.81 407.76,144.97 408.12,137.90 408.48,139.00 408.84,140.66 409.20,137.99 409.58,138.50 409.97,139.79 410.35,135.97 410.73,139.02 411.12,135.66 411.50,135.52 411.90,138.08 412.30,134.67 412.70,136.64 413.10,139.86 413.50,135.16 413.90,134.30 414.26,136.97 414.62,134.17 414.98,138.40 415.34,132.14 415.70,137.59 416.10,133.31 416.50,131.32 416.90,136.88 417.30,128.79 417.70,137.61 418.10,136.88 418.50,140.94 418.86,134.82 419.22,141.15 419.58,142.29 419.94,138.53 420.30,138.96 420.70,144.96 421.10,142.66 421.50,142.57 421.90,143.51 422.32,148.50 422.75,150.50 423.18,152.42 423.60,157.97 424.05,156.47 424.50,161.11 424.95,165.99 425.40,163.93 425.78,170.16 426.16,173.39 426.54,170.47 426.92,173.31 427.30,175.80 427.70,177.10 428.10,182.06 428.50,181.47 428.90,186.07 429.28,187.74 429.67,185.12 430.05,187.13 430.43,186.57 430.82,189.46 431.20,188.77 431.62,189.42 432.05,189.92 432.48,190.54 432.90,190.09 433.32,190.60 433.75,190.44 434.18,191.14 434.60,190.55 435.05,191.39 435.49,190.41 435.94,191.16 436.38,192.49 436.83,191.62 437.28,190.88 437.72,191.83 438.17,191.17 438.62,190.88 439.06,191.43 439.51,192.30 439.95,192.15 440.40,191.95 440.40,192.70" fill="#bdbdbd" stroke="none"/>
<polyline points="405.80,150.30 406.20,149.20 406.60,150.78 407.00,143.18 407.40,146.81 407.76,144.97 408.12,137.90 408.48,139.00 408.84,140.66 409.20,137.99 409.58,138.50 409.97,139.79 410.35,135.97 410.73,139.02 411.12,135.66 411.50,135.52 411.90,138.08 412.30,134.67 412.70,136.64 413.10,139.86 413.50,135.16 413.90,134.30 414.26,136.97 414.62,134.17 414.98,138.40 415.34,132.14 415.70,137.59 416.10,133.31 416.50,131.32 416.90,136.88 417.30,128.79 417.70,137.61 418.10,136.88 418.50,140.94 418.86,134.82 419.22,141.15 419.58,142.29 419.94,138.53 420.30,138.96 420.70,144.96 421.10,142.66 421.50,142.57 421.90,143.51 422.32,148.50 422.75,150.50 423.18,152.42 423.60,157.97 424.05,156.47 424.50,161.11 424.95,165.99 425.40,163.93 425.78,170.16 426.16,173.39 426.54,170.47 426.92,173.31 427.30,175.80 427.70,177.10 428.10,182.06 428.50,181.47 428.90,186.07 429.28,187.74 429.67,185.12 430.05,187.13 430.43,186.57 430.82,189.46 431.20,188.77 431.62,189.42 432.05,189.92 432.48,190.54 432.90,190.09 433.32,190.60 433.75,190.44 434.18,191.14 434.60,190.55 435.05,191.39 435.49,190.41 435.94,191.16 436.38,192.49 436.83,191.62 437.28,190.88 437.72,191.83 438.17,191.17 438.62,190.88 439.06,191.43 439.51,192.30 439.95,192.15 440.40,191.95" fill="none" stroke="#000" stroke-width="1.1" stroke-linejoin="round"/>
<polygon points="421.20,137.00 422.40,126.50 423.80,131.20 425.40,133.50 427.30,134.70 428.40,145.00 426.50,147.00 424.50,143.00 422.50,141.00" fill="#222" stroke="none"/>
<polyline points="405.80,169.94 406.20,168.14 406.60,171.51 407.00,167.85 407.40,163.89 407.76,161.78 408.12,161.54 408.48,167.30 408.84,160.56 409.20,162.23 409.58,161.91 409.97,160.11 410.35,158.85 410.73,155.30 411.12,155.06 411.50,160.46 411.90,153.99 412.30,157.15 412.70,150.33 413.10,152.85 413.50,153.43 413.90,154.64 414.28,148.35 414.67,152.01 415.05,150.71 415.43,146.99 415.82,149.43 416.20,145.00 416.58,144.28 416.97,145.42 417.35,140.10 417.73,143.23 418.12,139.77 418.50,137.47 418.88,139.44 419.27,141.89 419.65,137.58 420.03,141.49 420.42,133.44 420.80,132.01 421.20,137.99 421.60,131.93 422.00,131.07 422.40,122.85 422.75,129.47 423.10,129.16 423.45,131.79 423.80,131.28 424.20,135.47 424.60,130.37 425.00,130.00 425.40,129.04 425.78,137.24 426.16,131.76 426.54,131.09 426.92,131.64 427.30,133.37 427.67,134.47 428.03,140.81 428.40,143.39 428.80,146.51 429.20,148.38 429.60,153.82 430.00,155.49 430.38,158.27 430.76,159.98 431.14,161.58 431.52,158.62 431.90,162.43 432.28,162.64 432.67,166.79 433.05,162.57 433.43,165.18 433.82,166.83 434.20,167.52 434.60,171.88 435.00,170.81 435.40,175.14 435.80,172.52 436.18,173.51 436.57,179.42 436.95,179.25 437.33,180.45 437.72,181.03 438.10,182.69 438.48,180.89 438.87,184.46 439.25,183.04 439.63,185.61 440.02,185.03 440.40,183.55 440.78,184.57 441.17,187.95 441.55,187.10 441.93,187.42 442.32,188.66 442.70,188.60 443.14,188.79 443.57,189.67 444.01,189.99 444.45,191.40 444.89,190.47 445.32,191.93 445.76,192.16 446.20,192.38 446.64,192.04 447.08,191.44 447.53,191.47 447.97,191.31 448.41,190.96 448.85,191.42 449.30,191.07 449.74,192.54 450.18,191.88 450.62,191.29 451.07,190.59 451.51,191.59 451.95,191.39 452.39,191.01 452.83,191.01 453.28,190.76 453.72,192.10 454.16,191.75 454.60,192.70 455.05,191.82 455.49,191.78 455.93,192.70 456.37,192.00 456.82,192.04 457.26,191.77 457.70,191.67 458.14,192.70 458.59,192.56 459.03,192.70 459.47,191.84 459.91,192.06 460.36,191.58 460.80,192.58 461.24,191.32 461.68,192.38 462.13,192.67 462.57,192.70 463.01,191.61 463.45,192.68 463.90,191.74 464.34,191.73 464.78,191.45 465.22,192.70 465.67,192.70 466.11,191.86 466.55,191.78 466.99,192.01 467.44,192.70 467.88,192.70 468.32,191.93 468.76,191.41 469.21,191.89 469.65,192.70 470.09,192.70 470.53,192.12 470.98,191.92 471.42,192.02 471.86,191.50 472.30,192.70 472.75,191.77 473.19,192.70 473.63,191.55 474.07,191.71 474.52,192.46 474.96,191.97 475.40,192.70 475.84,192.35 476.29,191.82 476.73,192.65 477.17,192.70 477.61,191.66 478.06,192.70 478.50,192.62" fill="none" stroke="#000" stroke-width="1.35" stroke-linejoin="round"/>
<rect x="405.5" y="125.5" width="108.20000000000005" height="67.80000000000001" fill="none" stroke="#000" stroke-width="1.2"/>
<line x1="405.50" y1="193.3" x2="405.50" y2="195.3" stroke="#000" stroke-width="0.9"/>
<line x1="413.64" y1="193.3" x2="413.64" y2="194.5" stroke="#000" stroke-width="0.7"/>
<line x1="418.41" y1="193.3" x2="418.41" y2="194.5" stroke="#000" stroke-width="0.7"/>
<line x1="421.79" y1="193.3" x2="421.79" y2="194.5" stroke="#000" stroke-width="0.7"/>
<line x1="424.41" y1="193.3" x2="424.41" y2="194.5" stroke="#000" stroke-width="0.7"/>
<line x1="426.55" y1="193.3" x2="426.55" y2="194.5" stroke="#000" stroke-width="0.7"/>
<line x1="428.36" y1="193.3" x2="428.36" y2="194.5" stroke="#000" stroke-width="0.7"/>
<line x1="429.93" y1="193.3" x2="429.93" y2="194.5" stroke="#000" stroke-width="0.7"/>
<line x1="431.31" y1="193.3" x2="431.31" y2="194.5" stroke="#000" stroke-width="0.7"/>
<text transform="translate(405.50,201.50) scale(0.82,1)" font-size="5.3" font-weight="bold" text-anchor="middle" font-family="Liberation Sans" stroke="#000" stroke-width="0.25">10</text>
<text x="408.00" y="198.70" font-size="3.6" font-weight="bold" font-family="Liberation Sans" stroke="#000" stroke-width="0.15">0</text>
<line x1="432.55" y1="193.3" x2="432.55" y2="195.3" stroke="#000" stroke-width="0.9"/>
<line x1="440.69" y1="193.3" x2="440.69" y2="194.5" stroke="#000" stroke-width="0.7"/>
<line x1="445.46" y1="193.3" x2="445.46" y2="194.5" stroke="#000" stroke-width="0.7"/>
<line x1="448.84" y1="193.3" x2="448.84" y2="194.5" stroke="#000" stroke-width="0.7"/>
<line x1="451.46" y1="193.3" x2="451.46" y2="194.5" stroke="#000" stroke-width="0.7"/>
<line x1="453.60" y1="193.3" x2="453.60" y2="194.5" stroke="#000" stroke-width="0.7"/>
<line x1="455.41" y1="193.3" x2="455.41" y2="194.5" stroke="#000" stroke-width="0.7"/>
<line x1="456.98" y1="193.3" x2="456.98" y2="194.5" stroke="#000" stroke-width="0.7"/>
<line x1="458.36" y1="193.3" x2="458.36" y2="194.5" stroke="#000" stroke-width="0.7"/>
<text transform="translate(432.55,201.50) scale(0.82,1)" font-size="5.3" font-weight="bold" text-anchor="middle" font-family="Liberation Sans" stroke="#000" stroke-width="0.25">10</text>
<text x="435.05" y="198.70" font-size="3.6" font-weight="bold" font-family="Liberation Sans" stroke="#000" stroke-width="0.15">1</text>
<line x1="459.60" y1="193.3" x2="459.60" y2="195.3" stroke="#000" stroke-width="0.9"/>
<line x1="467.74" y1="193.3" x2="467.74" y2="194.5" stroke="#000" stroke-width="0.7"/>
<line x1="472.51" y1="193.3" x2="472.51" y2="194.5" stroke="#000" stroke-width="0.7"/>
<line x1="475.89" y1="193.3" x2="475.89" y2="194.5" stroke="#000" stroke-width="0.7"/>
<line x1="478.51" y1="193.3" x2="478.51" y2="194.5" stroke="#000" stroke-width="0.7"/>
<line x1="480.65" y1="193.3" x2="480.65" y2="194.5" stroke="#000" stroke-width="0.7"/>
<line x1="482.46" y1="193.3" x2="482.46" y2="194.5" stroke="#000" stroke-width="0.7"/>
<line x1="484.03" y1="193.3" x2="484.03" y2="194.5" stroke="#000" stroke-width="0.7"/>
<line x1="485.41" y1="193.3" x2="485.41" y2="194.5" stroke="#000" stroke-width="0.7"/>
<text transform="translate(459.60,201.50) scale(0.82,1)" font-size="5.3" font-weight="bold" text-anchor="middle" font-family="Liberation Sans" stroke="#000" stroke-width="0.25">10</text>
<text x="462.10" y="198.70" font-size="3.6" font-weight="bold" font-family="Liberation Sans" stroke="#000" stroke-width="0.15">2</text>
<line x1="486.65" y1="193.3" x2="486.65" y2="195.3" stroke="#000" stroke-width="0.9"/>
<line x1="494.79" y1="193.3" x2="494.79" y2="194.5" stroke="#000" stroke-width="0.7"/>
<line x1="499.56" y1="193.3" x2="499.56" y2="194.5" stroke="#000" stroke-width="0.7"/>
<line x1="502.94" y1="193.3" x2="502.94" y2="194.5" stroke="#000" stroke-width="0.7"/>
<line x1="505.56" y1="193.3" x2="505.56" y2="194.5" stroke="#000" stroke-width="0.7"/>
<line x1="507.70" y1="193.3" x2="507.70" y2="194.5" stroke="#000" stroke-width="0.7"/>
<line x1="509.51" y1="193.3" x2="509.51" y2="194.5" stroke="#000" stroke-width="0.7"/>
<line x1="511.08" y1="193.3" x2="511.08" y2="194.5" stroke="#000" stroke-width="0.7"/>
<line x1="512.46" y1="193.3" x2="512.46" y2="194.5" stroke="#000" stroke-width="0.7"/>
<text transform="translate(486.65,201.50) scale(0.82,1)" font-size="5.3" font-weight="bold" text-anchor="middle" font-family="Liberation Sans" stroke="#000" stroke-width="0.25">10</text>
<text x="489.15" y="198.70" font-size="3.6" font-weight="bold" font-family="Liberation Sans" stroke="#000" stroke-width="0.15">3</text>
<line x1="513.70" y1="193.3" x2="513.70" y2="195.3" stroke="#000" stroke-width="0.9"/>
<text transform="translate(513.70,201.50) scale(0.82,1)" font-size="5.3" font-weight="bold" text-anchor="middle" font-family="Liberation Sans" stroke="#000" stroke-width="0.25">10</text>
<text x="516.20" y="198.70" font-size="3.6" font-weight="bold" font-family="Liberation Sans" stroke="#000" stroke-width="0.15">4</text>
<text x="461.00" y="205.60" font-size="4.6" font-weight="bold" text-anchor="middle" font-family="Liberation Sans" stroke="#000" stroke-width="0.25">FL2-H</text>
<line x1="403.7" y1="193.30" x2="405.5" y2="193.30" stroke="#000" stroke-width="0.9"/>
<text transform="translate(403.20,193.30) rotate(-90)" x="0" y="0" font-size="5.2" font-weight="bold" text-anchor="middle" font-family="Liberation Sans" stroke="#000" stroke-width="0.35">0</text>
<line x1="403.7" y1="182.00" x2="405.5" y2="182.00" stroke="#000" stroke-width="0.9"/>
<text transform="translate(403.20,182.00) rotate(-90)" x="0" y="0" font-size="5.2" font-weight="bold" text-anchor="middle" font-family="Liberation Sans" stroke="#000" stroke-width="0.35">10</text>
<line x1="403.7" y1="170.70" x2="405.5" y2="170.70" stroke="#000" stroke-width="0.9"/>
<text transform="translate(403.20,170.70) rotate(-90)" x="0" y="0" font-size="5.2" font-weight="bold" text-anchor="middle" font-family="Liberation Sans" stroke="#000" stroke-width="0.35">20</text>
<line x1="403.7" y1="159.40" x2="405.5" y2="159.40" stroke="#000" stroke-width="0.9"/>
<text transform="translate(403.20,159.40) rotate(-90)" x="0" y="0" font-size="5.2" font-weight="bold" text-anchor="middle" font-family="Liberation Sans" stroke="#000" stroke-width="0.35">30</text>
<line x1="403.7" y1="148.10" x2="405.5" y2="148.10" stroke="#000" stroke-width="0.9"/>
<text transform="translate(403.20,148.10) rotate(-90)" x="0" y="0" font-size="5.2" font-weight="bold" text-anchor="middle" font-family="Liberation Sans" stroke="#000" stroke-width="0.35">40</text>
<line x1="403.7" y1="136.80" x2="405.5" y2="136.80" stroke="#000" stroke-width="0.9"/>
<text transform="translate(403.20,136.80) rotate(-90)" x="0" y="0" font-size="5.2" font-weight="bold" text-anchor="middle" font-family="Liberation Sans" stroke="#000" stroke-width="0.35">50</text>
<line x1="403.7" y1="125.50" x2="405.5" y2="125.50" stroke="#000" stroke-width="0.9"/>
<text transform="translate(403.20,125.50) rotate(-90)" x="0" y="0" font-size="5.2" font-weight="bold" text-anchor="middle" font-family="Liberation Sans" stroke="#000" stroke-width="0.35">60</text>
<line x1="404.5" y1="193.30" x2="405.5" y2="193.30" stroke="#000" stroke-width="0.6"/>
<line x1="404.5" y1="191.04" x2="405.5" y2="191.04" stroke="#000" stroke-width="0.6"/>
<line x1="404.5" y1="188.78" x2="405.5" y2="188.78" stroke="#000" stroke-width="0.6"/>
<line x1="404.5" y1="186.52" x2="405.5" y2="186.52" stroke="#000" stroke-width="0.6"/>
<line x1="404.5" y1="184.26" x2="405.5" y2="184.26" stroke="#000" stroke-width="0.6"/>
<line x1="404.5" y1="182.00" x2="405.5" y2="182.00" stroke="#000" stroke-width="0.6"/>
<line x1="404.5" y1="179.74" x2="405.5" y2="179.74" stroke="#000" stroke-width="0.6"/>
<line x1="404.5" y1="177.48" x2="405.5" y2="177.48" stroke="#000" stroke-width="0.6"/>
<line x1="404.5" y1="175.22" x2="405.5" y2="175.22" stroke="#000" stroke-width="0.6"/>
<line x1="404.5" y1="172.96" x2="405.5" y2="172.96" stroke="#000" stroke-width="0.6"/>
<line x1="404.5" y1="170.70" x2="405.5" y2="170.70" stroke="#000" stroke-width="0.6"/>
<line x1="404.5" y1="168.44" x2="405.5" y2="168.44" stroke="#000" stroke-width="0.6"/>
<line x1="404.5" y1="166.18" x2="405.5" y2="166.18" stroke="#000" stroke-width="0.6"/>
<line x1="404.5" y1="163.92" x2="405.5" y2="163.92" stroke="#000" stroke-width="0.6"/>
<line x1="404.5" y1="161.66" x2="405.5" y2="161.66" stroke="#000" stroke-width="0.6"/>
<line x1="404.5" y1="159.40" x2="405.5" y2="159.40" stroke="#000" stroke-width="0.6"/>
<line x1="404.5" y1="157.14" x2="405.5" y2="157.14" stroke="#000" stroke-width="0.6"/>
<line x1="404.5" y1="154.88" x2="405.5" y2="154.88" stroke="#000" stroke-width="0.6"/>
<line x1="404.5" y1="152.62" x2="405.5" y2="152.62" stroke="#000" stroke-width="0.6"/>
<line x1="404.5" y1="150.36" x2="405.5" y2="150.36" stroke="#000" stroke-width="0.6"/>
<line x1="404.5" y1="148.10" x2="405.5" y2="148.10" stroke="#000" stroke-width="0.6"/>
<line x1="404.5" y1="145.84" x2="405.5" y2="145.84" stroke="#000" stroke-width="0.6"/>
<line x1="404.5" y1="143.58" x2="405.5" y2="143.58" stroke="#000" stroke-width="0.6"/>
<line x1="404.5" y1="141.32" x2="405.5" y2="141.32" stroke="#000" stroke-width="0.6"/>
<line x1="404.5" y1="139.06" x2="405.5" y2="139.06" stroke="#000" stroke-width="0.6"/>
<line x1="404.5" y1="136.80" x2="405.5" y2="136.80" stroke="#000" stroke-width="0.6"/>
<line x1="404.5" y1="134.54" x2="405.5" y2="134.54" stroke="#000" stroke-width="0.6"/>
<line x1="404.5" y1="132.28" x2="405.5" y2="132.28" stroke="#000" stroke-width="0.6"/>
<line x1="404.5" y1="130.02" x2="405.5" y2="130.02" stroke="#000" stroke-width="0.6"/>
<line x1="404.5" y1="127.76" x2="405.5" y2="127.76" stroke="#000" stroke-width="0.6"/>
<line x1="404.5" y1="125.50" x2="405.5" y2="125.50" stroke="#000" stroke-width="0.6"/>
<text transform="translate(397.60,160.76) rotate(-90)" x="0" y="0" font-size="4.6" font-weight="bold" text-anchor="middle" font-family="Liberation Sans" stroke="#000" stroke-width="0.2">Counts</text>
<polygon points="130.80,310.20 130.80,285.67 131.30,285.67 131.75,278.98 132.20,278.67 132.65,277.38 133.10,278.44 133.48,272.32 133.87,272.98 134.25,270.79 134.63,273.23 135.02,273.96 135.40,268.96 135.78,269.70 136.17,270.74 136.55,271.80 136.93,268.08 137.32,264.18 137.70,260.45 138.10,261.36 138.50,262.34 138.90,264.67 139.30,264.48 139.68,267.66 140.06,263.44 140.44,259.05 140.82,264.81 141.20,262.36 141.55,258.44 141.90,254.53 142.25,250.39 142.60,250.19 143.03,257.01 143.47,253.92 143.90,254.11 144.28,258.57 144.66,259.16 145.04,260.56 145.42,261.15 145.80,263.55 146.25,259.20 146.70,265.27 147.15,261.79 147.60,267.40 148.00,267.86 148.40,269.73 148.80,273.12 149.20,272.56 149.62,277.94 150.05,280.25 150.47,281.57 150.90,283.10 151.35,285.10 151.80,287.86 152.25,290.76 152.70,293.36 153.08,297.05 153.47,296.69 153.85,298.02 154.23,296.86 154.62,298.28 155.00,299.99 155.38,301.32 155.77,300.51 156.15,304.32 156.53,302.50 156.92,304.99 157.30,302.84 157.74,304.69 158.18,305.18 158.61,305.29 159.05,305.89 159.49,305.77 159.93,305.85 160.36,304.41 160.80,305.44 161.25,304.74 161.69,306.85 162.14,306.65 162.58,306.30 163.03,305.84 163.48,306.15 163.92,308.13 164.37,308.21 164.82,306.88 165.26,308.10 165.71,305.80 166.15,305.89 166.60,306.91 167.02,306.69 167.43,307.04 167.85,307.72 168.26,308.91 168.68,307.26 169.09,307.89 169.51,308.15 169.92,308.01 170.34,308.81 170.75,309.37 171.17,307.44 171.58,308.52 172.00,308.32 172.00,310.20" fill="#bdbdbd" stroke="none"/>
<polyline points="131.30,285.67 131.75,278.98 132.20,278.67 132.65,277.38 133.10,278.44 133.48,272.32 133.87,272.98 134.25,270.79 134.63,273.23 135.02,273.96 135.40,268.96 135.78,269.70 136.17,270.74 136.55,271.80 136.93,268.08 137.32,264.18 137.70,260.45 138.10,261.36 138.50,262.34 138.90,264.67 139.30,264.48 139.68,267.66 140.06,263.44 140.44,259.05 140.82,264.81 141.20,262.36 141.55,258.44 141.90,254.53 142.25,250.39 142.60,250.19 143.03,257.01 143.47,253.92 143.90,254.11 144.28,258.57 144.66,259.16 145.04,260.56 145.42,261.15 145.80,263.55 146.25,259.20 146.70,265.27 147.15,261.79 147.60,267.40 148.00,267.86 148.40,269.73 148.80,273.12 149.20,272.56 149.62,277.94 150.05,280.25 150.47,281.57 150.90,283.10 151.35,285.10 151.80,287.86 152.25,290.76 152.70,293.36 153.08,297.05 153.47,296.69 153.85,298.02 154.23,296.86 154.62,298.28 155.00,299.99 155.38,301.32 155.77,300.51 156.15,304.32 156.53,302.50 156.92,304.99 157.30,302.84 157.74,304.69 158.18,305.18 158.61,305.29 159.05,305.89 159.49,305.77 159.93,305.85 160.36,304.41 160.80,305.44 161.25,304.74 161.69,306.85 162.14,306.65 162.58,306.30 163.03,305.84 163.48,306.15 163.92,308.13 164.37,308.21 164.82,306.88 165.26,308.10 165.71,305.80 166.15,305.89 166.60,306.91 167.02,306.69 167.43,307.04 167.85,307.72 168.26,308.91 168.68,307.26 169.09,307.89 169.51,308.15 169.92,308.01 170.34,308.81 170.75,309.37 171.17,307.44 171.58,308.52 172.00,308.32" fill="none" stroke="#000" stroke-width="1.1" stroke-linejoin="round"/>
<polyline points="131.30,298.54 131.71,295.17 132.13,294.54 132.54,294.01 132.96,296.90 133.37,295.88 133.79,295.21 134.20,291.92 134.58,293.20 134.97,291.75 135.35,289.79 135.73,289.88 136.12,292.05 136.50,291.02 136.90,289.17 137.30,289.43 137.70,286.47 138.10,287.01 138.50,286.16 138.90,286.43 139.28,284.59 139.67,283.87 140.05,283.32 140.43,281.66 140.82,285.90 141.20,283.01 141.58,282.07 141.97,283.91 142.35,282.74 142.73,275.31 143.12,279.66 143.50,279.24 143.88,280.26 144.27,278.84 144.65,276.79 145.03,271.33 145.42,271.26 145.80,273.26 146.18,272.90 146.57,268.13 146.95,268.77 147.33,267.77 147.72,268.01 148.10,267.78 148.46,265.69 148.82,262.71 149.18,268.82 149.54,269.32 149.90,264.32 150.32,267.91 150.75,266.93 151.18,268.06 151.60,268.16 151.98,265.87 152.37,270.27 152.75,272.32 153.13,268.45 153.52,275.63 153.90,276.53 154.28,276.91 154.67,277.29 155.05,275.60 155.43,273.38 155.82,273.16 156.20,273.06 156.58,274.88 156.97,274.12 157.35,275.42 157.73,269.51 158.12,276.91 158.50,276.53 158.88,273.32 159.27,275.80 159.65,276.09 160.03,276.38 160.42,276.03 160.80,277.02 161.18,276.57 161.57,280.00 161.95,280.70 162.33,282.59 162.72,281.23 163.10,284.28 163.48,285.45 163.87,287.71 164.25,285.57 164.63,289.60 165.02,291.79 165.40,292.19 165.78,291.80 166.17,292.96 166.55,294.76 166.93,297.65 167.32,300.20 167.70,298.97 168.14,298.87 168.57,300.87 169.01,301.20 169.45,300.31 169.89,301.13 170.32,302.52 170.76,304.03 171.20,302.42 171.64,302.78 172.07,304.67 172.51,302.87 172.95,304.52 173.39,304.94 173.82,304.58 174.26,303.75 174.70,304.94 175.12,304.75 175.54,305.55 175.95,304.42 176.37,306.53 176.79,303.85 177.21,305.42 177.63,305.71 178.05,306.77 178.46,305.29 178.88,306.54 179.30,305.55 179.74,306.91 180.18,307.82 180.62,305.99 181.05,306.89 181.49,305.69 181.93,307.56 182.37,307.86 182.81,306.87 183.25,305.91 183.68,307.38 184.12,308.13 184.56,308.16 185.00,308.00 185.44,306.00 185.88,306.86 186.31,308.70 186.75,306.55 187.19,308.58 187.62,309.02 188.06,308.40 188.50,308.75 188.94,307.65 189.38,307.02 189.81,307.98 190.25,307.97 190.69,308.16 191.12,308.79 191.56,308.22 192.00,308.54 192.44,308.77 192.89,308.52 193.33,309.72 193.78,308.95 194.22,308.76 194.67,308.63 195.11,308.41 195.56,309.78 196.00,309.05 196.44,308.32 196.89,308.72 197.33,309.05 197.78,308.92 198.22,309.91 198.67,308.63 199.11,309.66 199.56,309.52 200.00,308.85" fill="none" stroke="#000" stroke-width="1.35" stroke-linejoin="round"/>
<rect x="130.5" y="242.8" width="108.69999999999999" height="68.0" fill="none" stroke="#000" stroke-width="1.2"/>
<line x1="130.50" y1="310.8" x2="130.50" y2="312.8" stroke="#000" stroke-width="0.9"/>
<line x1="138.68" y1="310.8" x2="138.68" y2="312.0" stroke="#000" stroke-width="0.7"/>
<line x1="143.47" y1="310.8" x2="143.47" y2="312.0" stroke="#000" stroke-width="0.7"/>
<line x1="146.86" y1="310.8" x2="146.86" y2="312.0" stroke="#000" stroke-width="0.7"/>
<line x1="149.49" y1="310.8" x2="149.49" y2="312.0" stroke="#000" stroke-width="0.7"/>
<line x1="151.65" y1="310.8" x2="151.65" y2="312.0" stroke="#000" stroke-width="0.7"/>
<line x1="153.47" y1="310.8" x2="153.47" y2="312.0" stroke="#000" stroke-width="0.7"/>
<line x1="155.04" y1="310.8" x2="155.04" y2="312.0" stroke="#000" stroke-width="0.7"/>
<line x1="156.43" y1="310.8" x2="156.43" y2="312.0" stroke="#000" stroke-width="0.7"/>
<text transform="translate(130.50,319.00) scale(0.82,1)" font-size="5.3" font-weight="bold" text-anchor="middle" font-family="Liberation Sans" stroke="#000" stroke-width="0.25">10</text>
<text x="133.00" y="316.20" font-size="3.6" font-weight="bold" font-family="Liberation Sans" stroke="#000" stroke-width="0.15">0</text>
<line x1="157.68" y1="310.8" x2="157.68" y2="312.8" stroke="#000" stroke-width="0.9"/>
<line x1="165.86" y1="310.8" x2="165.86" y2="312.0" stroke="#000" stroke-width="0.7"/>
<line x1="170.64" y1="310.8" x2="170.64" y2="312.0" stroke="#000" stroke-width="0.7"/>
<line x1="174.04" y1="310.8" x2="174.04" y2="312.0" stroke="#000" stroke-width="0.7"/>
<line x1="176.67" y1="310.8" x2="176.67" y2="312.0" stroke="#000" stroke-width="0.7"/>
<line x1="178.82" y1="310.8" x2="178.82" y2="312.0" stroke="#000" stroke-width="0.7"/>
<line x1="180.64" y1="310.8" x2="180.64" y2="312.0" stroke="#000" stroke-width="0.7"/>
<line x1="182.22" y1="310.8" x2="182.22" y2="312.0" stroke="#000" stroke-width="0.7"/>
<line x1="183.61" y1="310.8" x2="183.61" y2="312.0" stroke="#000" stroke-width="0.7"/>
<text transform="translate(157.68,319.00) scale(0.82,1)" font-size="5.3" font-weight="bold" text-anchor="middle" font-family="Liberation Sans" stroke="#000" stroke-width="0.25">10</text>
<text x="160.18" y="316.20" font-size="3.6" font-weight="bold" font-family="Liberation Sans" stroke="#000" stroke-width="0.15">1</text>
<line x1="184.85" y1="310.8" x2="184.85" y2="312.8" stroke="#000" stroke-width="0.9"/>
<line x1="193.03" y1="310.8" x2="193.03" y2="312.0" stroke="#000" stroke-width="0.7"/>
<line x1="197.82" y1="310.8" x2="197.82" y2="312.0" stroke="#000" stroke-width="0.7"/>
<line x1="201.21" y1="310.8" x2="201.21" y2="312.0" stroke="#000" stroke-width="0.7"/>
<line x1="203.84" y1="310.8" x2="203.84" y2="312.0" stroke="#000" stroke-width="0.7"/>
<line x1="206.00" y1="310.8" x2="206.00" y2="312.0" stroke="#000" stroke-width="0.7"/>
<line x1="207.82" y1="310.8" x2="207.82" y2="312.0" stroke="#000" stroke-width="0.7"/>
<line x1="209.39" y1="310.8" x2="209.39" y2="312.0" stroke="#000" stroke-width="0.7"/>
<line x1="210.78" y1="310.8" x2="210.78" y2="312.0" stroke="#000" stroke-width="0.7"/>
<text transform="translate(184.85,319.00) scale(0.82,1)" font-size="5.3" font-weight="bold" text-anchor="middle" font-family="Liberation Sans" stroke="#000" stroke-width="0.25">10</text>
<text x="187.35" y="316.20" font-size="3.6" font-weight="bold" font-family="Liberation Sans" stroke="#000" stroke-width="0.15">2</text>
<line x1="212.02" y1="310.8" x2="212.02" y2="312.8" stroke="#000" stroke-width="0.9"/>
<line x1="220.21" y1="310.8" x2="220.21" y2="312.0" stroke="#000" stroke-width="0.7"/>
<line x1="224.99" y1="310.8" x2="224.99" y2="312.0" stroke="#000" stroke-width="0.7"/>
<line x1="228.39" y1="310.8" x2="228.39" y2="312.0" stroke="#000" stroke-width="0.7"/>
<line x1="231.02" y1="310.8" x2="231.02" y2="312.0" stroke="#000" stroke-width="0.7"/>
<line x1="233.17" y1="310.8" x2="233.17" y2="312.0" stroke="#000" stroke-width="0.7"/>
<line x1="234.99" y1="310.8" x2="234.99" y2="312.0" stroke="#000" stroke-width="0.7"/>
<line x1="236.57" y1="310.8" x2="236.57" y2="312.0" stroke="#000" stroke-width="0.7"/>
<line x1="237.96" y1="310.8" x2="237.96" y2="312.0" stroke="#000" stroke-width="0.7"/>
<text transform="translate(212.02,319.00) scale(0.82,1)" font-size="5.3" font-weight="bold" text-anchor="middle" font-family="Liberation Sans" stroke="#000" stroke-width="0.25">10</text>
<text x="214.52" y="316.20" font-size="3.6" font-weight="bold" font-family="Liberation Sans" stroke="#000" stroke-width="0.15">3</text>
<line x1="239.20" y1="310.8" x2="239.20" y2="312.8" stroke="#000" stroke-width="0.9"/>
<text transform="translate(239.20,319.00) scale(0.82,1)" font-size="5.3" font-weight="bold" text-anchor="middle" font-family="Liberation Sans" stroke="#000" stroke-width="0.25">10</text>
<text x="241.70" y="316.20" font-size="3.6" font-weight="bold" font-family="Liberation Sans" stroke="#000" stroke-width="0.15">4</text>
<text x="186.00" y="323.10" font-size="4.6" font-weight="bold" text-anchor="middle" font-family="Liberation Sans" stroke="#000" stroke-width="0.25">FL2-H</text>
<line x1="128.7" y1="310.80" x2="130.5" y2="310.80" stroke="#000" stroke-width="0.9"/>
<text transform="translate(128.20,310.80) rotate(-90)" x="0" y="0" font-size="5.2" font-weight="bold" text-anchor="middle" font-family="Liberation Sans" stroke="#000" stroke-width="0.35">0</text>
<line x1="128.7" y1="299.47" x2="130.5" y2="299.47" stroke="#000" stroke-width="0.9"/>
<text transform="translate(128.20,299.47) rotate(-90)" x="0" y="0" font-size="5.2" font-weight="bold" text-anchor="middle" font-family="Liberation Sans" stroke="#000" stroke-width="0.35">10</text>
<line x1="128.7" y1="288.13" x2="130.5" y2="288.13" stroke="#000" stroke-width="0.9"/>
<text transform="translate(128.20,288.13) rotate(-90)" x="0" y="0" font-size="5.2" font-weight="bold" text-anchor="middle" font-family="Liberation Sans" stroke="#000" stroke-width="0.35">20</text>
<line x1="128.7" y1="276.80" x2="130.5" y2="276.80" stroke="#000" stroke-width="0.9"/>
<text transform="translate(128.20,276.80) rotate(-90)" x="0" y="0" font-size="5.2" font-weight="bold" text-anchor="middle" font-family="Liberation Sans" stroke="#000" stroke-width="0.35">30</text>
<line x1="128.7" y1="265.47" x2="130.5" y2="265.47" stroke="#000" stroke-width="0.9"/>
<text transform="translate(128.20,265.47) rotate(-90)" x="0" y="0" font-size="5.2" font-weight="bold" text-anchor="middle" font-family="Liberation Sans" stroke="#000" stroke-width="0.35">40</text>
<line x1="128.7" y1="254.13" x2="130.5" y2="254.13" stroke="#000" stroke-width="0.9"/>
<text transform="translate(128.20,254.13) rotate(-90)" x="0" y="0" font-size="5.2" font-weight="bold" text-anchor="middle" font-family="Liberation Sans" stroke="#000" stroke-width="0.35">50</text>
<line x1="128.7" y1="242.80" x2="130.5" y2="242.80" stroke="#000" stroke-width="0.9"/>
<text transform="translate(128.20,242.80) rotate(-90)" x="0" y="0" font-size="5.2" font-weight="bold" text-anchor="middle" font-family="Liberation Sans" stroke="#000" stroke-width="0.35">60</text>
<line x1="129.5" y1="310.80" x2="130.5" y2="310.80" stroke="#000" stroke-width="0.6"/>
<line x1="129.5" y1="308.53" x2="130.5" y2="308.53" stroke="#000" stroke-width="0.6"/>
<line x1="129.5" y1="306.27" x2="130.5" y2="306.27" stroke="#000" stroke-width="0.6"/>
<line x1="129.5" y1="304.00" x2="130.5" y2="304.00" stroke="#000" stroke-width="0.6"/>
<line x1="129.5" y1="301.73" x2="130.5" y2="301.73" stroke="#000" stroke-width="0.6"/>
<line x1="129.5" y1="299.47" x2="130.5" y2="299.47" stroke="#000" stroke-width="0.6"/>
<line x1="129.5" y1="297.20" x2="130.5" y2="297.20" stroke="#000" stroke-width="0.6"/>
<line x1="129.5" y1="294.93" x2="130.5" y2="294.93" stroke="#000" stroke-width="0.6"/>
<line x1="129.5" y1="292.67" x2="130.5" y2="292.67" stroke="#000" stroke-width="0.6"/>
<line x1="129.5" y1="290.40" x2="130.5" y2="290.40" stroke="#000" stroke-width="0.6"/>
<line x1="129.5" y1="288.13" x2="130.5" y2="288.13" stroke="#000" stroke-width="0.6"/>
<line x1="129.5" y1="285.87" x2="130.5" y2="285.87" stroke="#000" stroke-width="0.6"/>
<line x1="129.5" y1="283.60" x2="130.5" y2="283.60" stroke="#000" stroke-width="0.6"/>
<line x1="129.5" y1="281.33" x2="130.5" y2="281.33" stroke="#000" stroke-width="0.6"/>
<line x1="129.5" y1="279.07" x2="130.5" y2="279.07" stroke="#000" stroke-width="0.6"/>
<line x1="129.5" y1="276.80" x2="130.5" y2="276.80" stroke="#000" stroke-width="0.6"/>
<line x1="129.5" y1="274.53" x2="130.5" y2="274.53" stroke="#000" stroke-width="0.6"/>
<line x1="129.5" y1="272.27" x2="130.5" y2="272.27" stroke="#000" stroke-width="0.6"/>
<line x1="129.5" y1="270.00" x2="130.5" y2="270.00" stroke="#000" stroke-width="0.6"/>
<line x1="129.5" y1="267.73" x2="130.5" y2="267.73" stroke="#000" stroke-width="0.6"/>
<line x1="129.5" y1="265.47" x2="130.5" y2="265.47" stroke="#000" stroke-width="0.6"/>
<line x1="129.5" y1="263.20" x2="130.5" y2="263.20" stroke="#000" stroke-width="0.6"/>
<line x1="129.5" y1="260.93" x2="130.5" y2="260.93" stroke="#000" stroke-width="0.6"/>
<line x1="129.5" y1="258.67" x2="130.5" y2="258.67" stroke="#000" stroke-width="0.6"/>
<line x1="129.5" y1="256.40" x2="130.5" y2="256.40" stroke="#000" stroke-width="0.6"/>
<line x1="129.5" y1="254.13" x2="130.5" y2="254.13" stroke="#000" stroke-width="0.6"/>
<line x1="129.5" y1="251.87" x2="130.5" y2="251.87" stroke="#000" stroke-width="0.6"/>
<line x1="129.5" y1="249.60" x2="130.5" y2="249.60" stroke="#000" stroke-width="0.6"/>
<line x1="129.5" y1="247.33" x2="130.5" y2="247.33" stroke="#000" stroke-width="0.6"/>
<line x1="129.5" y1="245.07" x2="130.5" y2="245.07" stroke="#000" stroke-width="0.6"/>
<line x1="129.5" y1="242.80" x2="130.5" y2="242.80" stroke="#000" stroke-width="0.6"/>
<text transform="translate(122.60,278.16) rotate(-90)" x="0" y="0" font-size="4.6" font-weight="bold" text-anchor="middle" font-family="Liberation Sans" stroke="#000" stroke-width="0.2">Counts</text>
<polygon points="266.30,309.70 266.30,295.77 266.60,295.77 266.98,295.17 267.37,295.69 267.75,293.86 268.13,294.64 268.52,291.28 268.90,291.69 269.28,293.72 269.67,293.23 270.05,290.53 270.43,288.56 270.82,290.56 271.20,284.82 271.58,285.66 271.97,287.77 272.35,287.16 272.73,283.43 273.12,281.75 273.50,286.98 273.90,283.35 274.30,280.12 274.70,280.86 275.10,281.46 275.50,275.10 275.90,279.66 276.28,277.36 276.67,270.65 277.05,274.39 277.43,267.42 277.82,272.22 278.20,268.95 278.58,270.71 278.97,264.21 279.35,264.56 279.73,266.01 280.12,260.64 280.50,259.30 280.86,258.30 281.22,257.23 281.58,252.68 281.94,255.06 282.30,253.40 282.70,250.65 283.10,253.51 283.50,246.62 283.90,249.87 284.30,243.75 284.70,246.77 285.10,239.11 285.47,245.91 285.83,246.36 286.20,247.00 286.62,248.14 287.05,250.34 287.47,250.78 287.90,249.87 288.25,254.03 288.60,255.60 288.95,257.11 289.30,257.17 289.70,261.31 290.10,265.36 290.50,264.54 290.90,265.71 291.30,272.12 291.70,273.20 292.10,275.05 292.50,277.54 292.86,275.90 293.22,277.93 293.58,282.09 293.94,280.29 294.30,282.77 294.68,284.69 295.07,285.64 295.45,285.39 295.83,288.66 296.22,287.51 296.60,290.08 296.98,291.61 297.37,291.85 297.75,292.91 298.13,290.80 298.52,291.57 298.90,293.65 299.30,296.28 299.70,298.71 300.10,295.79 300.50,298.88 300.90,298.32 301.30,299.48 301.73,300.57 302.15,302.25 302.57,302.19 303.00,303.79 303.43,301.87 303.85,304.43 304.27,304.95 304.70,304.57 305.14,305.17 305.57,304.35 306.01,304.06 306.45,304.92 306.89,304.90 307.32,307.16 307.76,305.47 308.20,307.50 308.65,306.37 309.09,306.55 309.54,307.01 309.98,305.81 310.43,307.33 310.88,306.96 311.32,305.51 311.77,307.32 312.22,307.37 312.66,307.38 313.11,308.35 313.55,306.89 314.00,307.69 314.43,307.95 314.86,306.80 315.29,308.44 315.71,306.59 316.14,306.80 316.57,308.18 317.00,307.15 317.43,307.91 317.86,307.00 318.29,308.20 318.71,307.51 319.14,308.55 319.57,307.46 320.00,308.77 320.00,309.70" fill="#bdbdbd" stroke="none"/>
<polyline points="266.60,295.77 266.98,295.17 267.37,295.69 267.75,293.86 268.13,294.64 268.52,291.28 268.90,291.69 269.28,293.72 269.67,293.23 270.05,290.53 270.43,288.56 270.82,290.56 271.20,284.82 271.58,285.66 271.97,287.77 272.35,287.16 272.73,283.43 273.12,281.75 273.50,286.98 273.90,283.35 274.30,280.12 274.70,280.86 275.10,281.46 275.50,275.10 275.90,279.66 276.28,277.36 276.67,270.65 277.05,274.39 277.43,267.42 277.82,272.22 278.20,268.95 278.58,270.71 278.97,264.21 279.35,264.56 279.73,266.01 280.12,260.64 280.50,259.30 280.86,258.30 281.22,257.23 281.58,252.68 281.94,255.06 282.30,253.40 282.70,250.65 283.10,253.51 283.50,246.62 283.90,249.87 284.30,243.75 284.70,246.77 285.10,239.11 285.47,245.91 285.83,246.36 286.20,247.00 286.62,248.14 287.05,250.34 287.47,250.78 287.90,249.87 288.25,254.03 288.60,255.60 288.95,257.11 289.30,257.17 289.70,261.31 290.10,265.36 290.50,264.54 290.90,265.71 291.30,272.12 291.70,273.20 292.10,275.05 292.50,277.54 292.86,275.90 293.22,277.93 293.58,282.09 293.94,280.29 294.30,282.77 294.68,284.69 295.07,285.64 295.45,285.39 295.83,288.66 296.22,287.51 296.60,290.08 296.98,291.61 297.37,291.85 297.75,292.91 298.13,290.80 298.52,291.57 298.90,293.65 299.30,296.28 299.70,298.71 300.10,295.79 300.50,298.88 300.90,298.32 301.30,299.48 301.73,300.57 302.15,302.25 302.57,302.19 303.00,303.79 303.43,301.87 303.85,304.43 304.27,304.95 304.70,304.57 305.14,305.17 305.57,304.35 306.01,304.06 306.45,304.92 306.89,304.90 307.32,307.16 307.76,305.47 308.20,307.50 308.65,306.37 309.09,306.55 309.54,307.01 309.98,305.81 310.43,307.33 310.88,306.96 311.32,305.51 311.77,307.32 312.22,307.37 312.66,307.38 313.11,308.35 313.55,306.89 314.00,307.69 314.43,307.95 314.86,306.80 315.29,308.44 315.71,306.59 316.14,306.80 316.57,308.18 317.00,307.15 317.43,307.91 317.86,307.00 318.29,308.20 318.71,307.51 319.14,308.55 319.57,307.46 320.00,308.77" fill="none" stroke="#000" stroke-width="1.1" stroke-linejoin="round"/>
<polyline points="266.60,304.73 267.04,304.63 267.48,304.05 267.91,303.84 268.35,301.71 268.79,300.90 269.23,302.42 269.66,300.76 270.10,300.92 270.53,301.85 270.95,299.01 271.38,299.89 271.80,299.89 272.23,299.08 272.65,300.74 273.07,299.91 273.50,298.77 273.94,298.45 274.38,300.84 274.81,298.72 275.25,300.37 275.69,300.09 276.12,297.12 276.56,297.76 277.00,299.20 277.44,299.12 277.88,299.20 278.31,298.69 278.75,298.49 279.19,295.74 279.62,295.41 280.06,296.43 280.50,293.90 280.93,295.80 281.35,290.75 281.77,294.00 282.20,292.00 282.62,288.88 283.05,292.91 283.47,291.14 283.90,290.04 284.34,287.40 284.77,287.94 285.21,291.14 285.65,286.04 286.09,283.92 286.52,284.77 286.96,283.48 287.40,285.03 287.78,283.72 288.17,281.87 288.55,281.22 288.93,284.47 289.32,278.35 289.70,284.20 290.08,278.57 290.46,276.40 290.84,279.73 291.22,278.32 291.60,273.66 292.00,276.43 292.40,269.32 292.80,269.47 293.20,273.13 293.58,269.09 293.97,265.86 294.35,269.91 294.73,270.39 295.12,267.41 295.50,262.73 295.88,265.80 296.27,267.59 296.65,268.32 297.03,270.30 297.42,265.23 297.80,264.43 298.18,265.42 298.57,268.53 298.95,262.65 299.33,268.44 299.72,260.52 300.10,266.73 300.48,262.39 300.87,265.03 301.25,265.26 301.63,259.80 302.02,262.36 302.40,262.86 302.78,263.25 303.17,258.50 303.55,257.75 303.93,255.47 304.32,263.85 304.70,258.26 305.10,259.33 305.50,256.98 305.90,264.79 306.30,261.96 306.65,266.72 307.00,264.58 307.35,261.73 307.70,263.11 308.10,260.40 308.50,264.84 308.90,266.52 309.30,267.11 309.73,272.67 310.15,274.61 310.57,280.58 311.00,276.04 311.36,279.76 311.72,280.90 312.08,283.50 312.44,286.92 312.80,288.48 313.18,288.90 313.57,289.12 313.95,292.04 314.33,292.93 314.72,290.73 315.10,294.17 315.50,293.22 315.90,294.40 316.30,297.31 316.70,298.00 317.10,298.91 317.50,298.35 317.90,300.13 318.33,299.68 318.76,301.86 319.19,302.72 319.61,304.31 320.04,304.34 320.47,302.38 320.90,303.29 321.32,302.97 321.74,304.55 322.15,306.15 322.57,305.39 322.99,303.18 323.41,303.76 323.83,303.96 324.25,305.98 324.66,305.68 325.08,306.18 325.50,307.59 325.95,305.43 326.39,305.51 326.84,307.83 327.28,306.78 327.73,305.87 328.18,305.25 328.62,305.42 329.07,305.46 329.52,306.99 329.96,307.06 330.41,307.94 330.85,307.09 331.30,306.74 331.74,306.76 332.18,308.68 332.61,306.19 333.05,307.65 333.49,307.58 333.93,308.09 334.37,307.36 334.80,308.10 335.24,308.38 335.68,307.71 336.12,307.54 336.56,307.79 337.00,307.28 337.43,307.88 337.87,307.87 338.31,308.29 338.75,309.12 339.19,309.14 339.62,307.99 340.06,308.75 340.50,308.59 340.93,308.93 341.36,308.47 341.80,308.65 342.23,308.21 342.66,308.04 343.09,309.12 343.52,309.41 343.95,309.03 344.39,308.92 344.82,308.84 345.25,308.43 345.68,307.76 346.11,309.15 346.55,308.90 346.98,308.48 347.41,308.27 347.84,309.60 348.27,307.97 348.70,309.70 349.14,309.31 349.57,309.70 350.00,308.60" fill="none" stroke="#000" stroke-width="1.35" stroke-linejoin="round"/>
<rect x="266.0" y="242.5" width="112.30000000000001" height="67.80000000000001" fill="none" stroke="#000" stroke-width="1.2"/>
<line x1="266.00" y1="310.3" x2="266.00" y2="312.3" stroke="#000" stroke-width="0.9"/>
<line x1="274.45" y1="310.3" x2="274.45" y2="311.5" stroke="#000" stroke-width="0.7"/>
<line x1="279.40" y1="310.3" x2="279.40" y2="311.5" stroke="#000" stroke-width="0.7"/>
<line x1="282.90" y1="310.3" x2="282.90" y2="311.5" stroke="#000" stroke-width="0.7"/>
<line x1="285.62" y1="310.3" x2="285.62" y2="311.5" stroke="#000" stroke-width="0.7"/>
<line x1="287.85" y1="310.3" x2="287.85" y2="311.5" stroke="#000" stroke-width="0.7"/>
<line x1="289.73" y1="310.3" x2="289.73" y2="311.5" stroke="#000" stroke-width="0.7"/>
<line x1="291.35" y1="310.3" x2="291.35" y2="311.5" stroke="#000" stroke-width="0.7"/>
<line x1="292.79" y1="310.3" x2="292.79" y2="311.5" stroke="#000" stroke-width="0.7"/>
<text transform="translate(266.00,318.50) scale(0.82,1)" font-size="5.3" font-weight="bold" text-anchor="middle" font-family="Liberation Sans" stroke="#000" stroke-width="0.25">10</text>
<text x="268.50" y="315.70" font-size="3.6" font-weight="bold" font-family="Liberation Sans" stroke="#000" stroke-width="0.15">0</text>
<line x1="294.07" y1="310.3" x2="294.07" y2="312.3" stroke="#000" stroke-width="0.9"/>
<line x1="302.53" y1="310.3" x2="302.53" y2="311.5" stroke="#000" stroke-width="0.7"/>
<line x1="307.47" y1="310.3" x2="307.47" y2="311.5" stroke="#000" stroke-width="0.7"/>
<line x1="310.98" y1="310.3" x2="310.98" y2="311.5" stroke="#000" stroke-width="0.7"/>
<line x1="313.70" y1="310.3" x2="313.70" y2="311.5" stroke="#000" stroke-width="0.7"/>
<line x1="315.92" y1="310.3" x2="315.92" y2="311.5" stroke="#000" stroke-width="0.7"/>
<line x1="317.80" y1="310.3" x2="317.80" y2="311.5" stroke="#000" stroke-width="0.7"/>
<line x1="319.43" y1="310.3" x2="319.43" y2="311.5" stroke="#000" stroke-width="0.7"/>
<line x1="320.87" y1="310.3" x2="320.87" y2="311.5" stroke="#000" stroke-width="0.7"/>
<text transform="translate(294.07,318.50) scale(0.82,1)" font-size="5.3" font-weight="bold" text-anchor="middle" font-family="Liberation Sans" stroke="#000" stroke-width="0.25">10</text>
<text x="296.57" y="315.70" font-size="3.6" font-weight="bold" font-family="Liberation Sans" stroke="#000" stroke-width="0.15">1</text>
<line x1="322.15" y1="310.3" x2="322.15" y2="312.3" stroke="#000" stroke-width="0.9"/>
<line x1="330.60" y1="310.3" x2="330.60" y2="311.5" stroke="#000" stroke-width="0.7"/>
<line x1="335.55" y1="310.3" x2="335.55" y2="311.5" stroke="#000" stroke-width="0.7"/>
<line x1="339.05" y1="310.3" x2="339.05" y2="311.5" stroke="#000" stroke-width="0.7"/>
<line x1="341.77" y1="310.3" x2="341.77" y2="311.5" stroke="#000" stroke-width="0.7"/>
<line x1="344.00" y1="310.3" x2="344.00" y2="311.5" stroke="#000" stroke-width="0.7"/>
<line x1="345.88" y1="310.3" x2="345.88" y2="311.5" stroke="#000" stroke-width="0.7"/>
<line x1="347.50" y1="310.3" x2="347.50" y2="311.5" stroke="#000" stroke-width="0.7"/>
<line x1="348.94" y1="310.3" x2="348.94" y2="311.5" stroke="#000" stroke-width="0.7"/>
<text transform="translate(322.15,318.50) scale(0.82,1)" font-size="5.3" font-weight="bold" text-anchor="middle" font-family="Liberation Sans" stroke="#000" stroke-width="0.25">10</text>
<text x="324.65" y="315.70" font-size="3.6" font-weight="bold" font-family="Liberation Sans" stroke="#000" stroke-width="0.15">2</text>
<line x1="350.23" y1="310.3" x2="350.23" y2="312.3" stroke="#000" stroke-width="0.9"/>
<line x1="358.68" y1="310.3" x2="358.68" y2="311.5" stroke="#000" stroke-width="0.7"/>
<line x1="363.62" y1="310.3" x2="363.62" y2="311.5" stroke="#000" stroke-width="0.7"/>
<line x1="367.13" y1="310.3" x2="367.13" y2="311.5" stroke="#000" stroke-width="0.7"/>
<line x1="369.85" y1="310.3" x2="369.85" y2="311.5" stroke="#000" stroke-width="0.7"/>
<line x1="372.07" y1="310.3" x2="372.07" y2="311.5" stroke="#000" stroke-width="0.7"/>
<line x1="373.95" y1="310.3" x2="373.95" y2="311.5" stroke="#000" stroke-width="0.7"/>
<line x1="375.58" y1="310.3" x2="375.58" y2="311.5" stroke="#000" stroke-width="0.7"/>
<line x1="377.02" y1="310.3" x2="377.02" y2="311.5" stroke="#000" stroke-width="0.7"/>
<text transform="translate(350.23,318.50) scale(0.82,1)" font-size="5.3" font-weight="bold" text-anchor="middle" font-family="Liberation Sans" stroke="#000" stroke-width="0.25">10</text>
<text x="352.73" y="315.70" font-size="3.6" font-weight="bold" font-family="Liberation Sans" stroke="#000" stroke-width="0.15">3</text>
<line x1="378.30" y1="310.3" x2="378.30" y2="312.3" stroke="#000" stroke-width="0.9"/>
<text transform="translate(378.30,318.50) scale(0.82,1)" font-size="5.3" font-weight="bold" text-anchor="middle" font-family="Liberation Sans" stroke="#000" stroke-width="0.25">10</text>
<text x="380.80" y="315.70" font-size="3.6" font-weight="bold" font-family="Liberation Sans" stroke="#000" stroke-width="0.15">4</text>
<text x="321.50" y="322.60" font-size="4.6" font-weight="bold" text-anchor="middle" font-family="Liberation Sans" stroke="#000" stroke-width="0.25">FL2-H</text>
<line x1="264.2" y1="310.30" x2="266.0" y2="310.30" stroke="#000" stroke-width="0.9"/>
<text transform="translate(263.70,310.30) rotate(-90)" x="0" y="0" font-size="5.2" font-weight="bold" text-anchor="middle" font-family="Liberation Sans" stroke="#000" stroke-width="0.35">0</text>
<line x1="264.2" y1="299.00" x2="266.0" y2="299.00" stroke="#000" stroke-width="0.9"/>
<text transform="translate(263.70,299.00) rotate(-90)" x="0" y="0" font-size="5.2" font-weight="bold" text-anchor="middle" font-family="Liberation Sans" stroke="#000" stroke-width="0.35">10</text>
<line x1="264.2" y1="287.70" x2="266.0" y2="287.70" stroke="#000" stroke-width="0.9"/>
<text transform="translate(263.70,287.70) rotate(-90)" x="0" y="0" font-size="5.2" font-weight="bold" text-anchor="middle" font-family="Liberation Sans" stroke="#000" stroke-width="0.35">20</text>
<line x1="264.2" y1="276.40" x2="266.0" y2="276.40" stroke="#000" stroke-width="0.9"/>
<text transform="translate(263.70,276.40) rotate(-90)" x="0" y="0" font-size="5.2" font-weight="bold" text-anchor="middle" font-family="Liberation Sans" stroke="#000" stroke-width="0.35">30</text>
<line x1="264.2" y1="265.10" x2="266.0" y2="265.10" stroke="#000" stroke-width="0.9"/>
<text transform="translate(263.70,265.10) rotate(-90)" x="0" y="0" font-size="5.2" font-weight="bold" text-anchor="middle" font-family="Liberation Sans" stroke="#000" stroke-width="0.35">40</text>
<line x1="264.2" y1="253.80" x2="266.0" y2="253.80" stroke="#000" stroke-width="0.9"/>
<text transform="translate(263.70,253.80) rotate(-90)" x="0" y="0" font-size="5.2" font-weight="bold" text-anchor="middle" font-family="Liberation Sans" stroke="#000" stroke-width="0.35">50</text>
<line x1="264.2" y1="242.50" x2="266.0" y2="242.50" stroke="#000" stroke-width="0.9"/>
<text transform="translate(263.70,242.50) rotate(-90)" x="0" y="0" font-size="5.2" font-weight="bold" text-anchor="middle" font-family="Liberation Sans" stroke="#000" stroke-width="0.35">60</text>
<line x1="265.0" y1="310.30" x2="266.0" y2="310.30" stroke="#000" stroke-width="0.6"/>
<line x1="265.0" y1="308.04" x2="266.0" y2="308.04" stroke="#000" stroke-width="0.6"/>
<line x1="265.0" y1="305.78" x2="266.0" y2="305.78" stroke="#000" stroke-width="0.6"/>
<line x1="265.0" y1="303.52" x2="266.0" y2="303.52" stroke="#000" stroke-width="0.6"/>
<line x1="265.0" y1="301.26" x2="266.0" y2="301.26" stroke="#000" stroke-width="0.6"/>
<line x1="265.0" y1="299.00" x2="266.0" y2="299.00" stroke="#000" stroke-width="0.6"/>
<line x1="265.0" y1="296.74" x2="266.0" y2="296.74" stroke="#000" stroke-width="0.6"/>
<line x1="265.0" y1="294.48" x2="266.0" y2="294.48" stroke="#000" stroke-width="0.6"/>
<line x1="265.0" y1="292.22" x2="266.0" y2="292.22" stroke="#000" stroke-width="0.6"/>
<line x1="265.0" y1="289.96" x2="266.0" y2="289.96" stroke="#000" stroke-width="0.6"/>
<line x1="265.0" y1="287.70" x2="266.0" y2="287.70" stroke="#000" stroke-width="0.6"/>
<line x1="265.0" y1="285.44" x2="266.0" y2="285.44" stroke="#000" stroke-width="0.6"/>
<line x1="265.0" y1="283.18" x2="266.0" y2="283.18" stroke="#000" stroke-width="0.6"/>
<line x1="265.0" y1="280.92" x2="266.0" y2="280.92" stroke="#000" stroke-width="0.6"/>
<line x1="265.0" y1="278.66" x2="266.0" y2="278.66" stroke="#000" stroke-width="0.6"/>
<line x1="265.0" y1="276.40" x2="266.0" y2="276.40" stroke="#000" stroke-width="0.6"/>
<line x1="265.0" y1="274.14" x2="266.0" y2="274.14" stroke="#000" stroke-width="0.6"/>
<line x1="265.0" y1="271.88" x2="266.0" y2="271.88" stroke="#000" stroke-width="0.6"/>
<line x1="265.0" y1="269.62" x2="266.0" y2="269.62" stroke="#000" stroke-width="0.6"/>
<line x1="265.0" y1="267.36" x2="266.0" y2="267.36" stroke="#000" stroke-width="0.6"/>
<line x1="265.0" y1="265.10" x2="266.0" y2="265.10" stroke="#000" stroke-width="0.6"/>
<line x1="265.0" y1="262.84" x2="266.0" y2="262.84" stroke="#000" stroke-width="0.6"/>
<line x1="265.0" y1="260.58" x2="266.0" y2="260.58" stroke="#000" stroke-width="0.6"/>
<line x1="265.0" y1="258.32" x2="266.0" y2="258.32" stroke="#000" stroke-width="0.6"/>
<line x1="265.0" y1="256.06" x2="266.0" y2="256.06" stroke="#000" stroke-width="0.6"/>
<line x1="265.0" y1="253.80" x2="266.0" y2="253.80" stroke="#000" stroke-width="0.6"/>
<line x1="265.0" y1="251.54" x2="266.0" y2="251.54" stroke="#000" stroke-width="0.6"/>
<line x1="265.0" y1="249.28" x2="266.0" y2="249.28" stroke="#000" stroke-width="0.6"/>
<line x1="265.0" y1="247.02" x2="266.0" y2="247.02" stroke="#000" stroke-width="0.6"/>
<line x1="265.0" y1="244.76" x2="266.0" y2="244.76" stroke="#000" stroke-width="0.6"/>
<line x1="265.0" y1="242.50" x2="266.0" y2="242.50" stroke="#000" stroke-width="0.6"/>
<text transform="translate(258.10,277.76) rotate(-90)" x="0" y="0" font-size="4.6" font-weight="bold" text-anchor="middle" font-family="Liberation Sans" stroke="#000" stroke-width="0.2">Counts</text>
<polygon points="406.00,308.60 406.00,300.37 406.50,300.37 406.95,299.19 407.40,299.43 407.85,298.38 408.30,297.08 408.75,298.93 409.20,295.82 409.58,295.41 409.97,296.17 410.35,293.80 410.73,293.17 411.12,293.62 411.50,291.72 411.90,288.91 412.30,289.43 412.70,287.87 413.10,289.76 413.50,283.54 413.90,286.02 414.27,281.15 414.63,280.43 415.00,278.94 415.40,282.03 415.80,285.05 416.20,288.25 416.56,282.25 416.92,284.23 417.28,281.79 417.64,279.63 418.00,274.48 418.38,276.70 418.77,273.16 419.15,272.84 419.53,270.09 419.92,270.89 420.30,270.62 420.68,269.35 421.07,264.80 421.45,266.39 421.83,266.21 422.22,258.89 422.60,263.66 423.00,255.02 423.40,258.47 423.80,257.20 424.20,258.18 424.62,253.51 425.05,249.98 425.47,247.64 425.90,244.88 426.26,250.32 426.62,247.25 426.98,245.65 427.34,248.95 427.70,245.03 428.08,246.20 428.46,246.38 428.84,252.43 429.22,252.28 429.60,247.96 429.97,245.57 430.33,252.23 430.70,253.19 431.10,256.23 431.50,259.07 431.90,259.08 432.30,264.80 432.70,267.13 433.10,268.20 433.50,269.37 433.90,271.25 434.30,275.86 434.70,274.04 435.10,278.07 435.48,278.51 435.86,278.90 436.24,284.41 436.62,284.83 437.00,286.56 437.36,289.41 437.72,286.72 438.08,290.53 438.44,292.48 438.80,294.68 439.20,293.25 439.60,297.31 440.00,298.04 440.40,300.91 440.78,301.18 441.17,301.02 441.55,302.81 441.93,301.53 442.32,301.65 442.70,302.34 443.14,302.02 443.57,303.25 444.01,301.98 444.45,303.77 444.89,304.54 445.32,305.34 445.76,304.40 446.20,306.22 446.62,304.56 447.04,305.14 447.45,304.03 447.87,304.88 448.29,304.99 448.71,306.94 449.13,306.30 449.55,305.18 449.96,306.55 450.38,306.63 450.80,306.23 451.23,306.47 451.66,306.30 452.09,306.19 452.52,305.48 452.96,306.62 453.39,307.62 453.82,307.76 454.25,306.66 454.68,306.41 455.11,306.82 455.54,307.60 455.98,307.30 456.41,306.76 456.84,307.41 457.27,307.12 457.70,307.62 458.14,307.11 458.58,306.54 459.02,307.51 459.47,307.97 459.91,306.96 460.35,307.59 460.79,308.19 461.23,307.57 461.68,307.48 462.12,308.60 462.56,308.36 463.00,308.51 463.00,308.60" fill="#bdbdbd" stroke="none"/>
<polyline points="406.50,300.37 406.95,299.19 407.40,299.43 407.85,298.38 408.30,297.08 408.75,298.93 409.20,295.82 409.58,295.41 409.97,296.17 410.35,293.80 410.73,293.17 411.12,293.62 411.50,291.72 411.90,288.91 412.30,289.43 412.70,287.87 413.10,289.76 413.50,283.54 413.90,286.02 414.27,281.15 414.63,280.43 415.00,278.94 415.40,282.03 415.80,285.05 416.20,288.25 416.56,282.25 416.92,284.23 417.28,281.79 417.64,279.63 418.00,274.48 418.38,276.70 418.77,273.16 419.15,272.84 419.53,270.09 419.92,270.89 420.30,270.62 420.68,269.35 421.07,264.80 421.45,266.39 421.83,266.21 422.22,258.89 422.60,263.66 423.00,255.02 423.40,258.47 423.80,257.20 424.20,258.18 424.62,253.51 425.05,249.98 425.47,247.64 425.90,244.88 426.26,250.32 426.62,247.25 426.98,245.65 427.34,248.95 427.70,245.03 428.08,246.20 428.46,246.38 428.84,252.43 429.22,252.28 429.60,247.96 429.97,245.57 430.33,252.23 430.70,253.19 431.10,256.23 431.50,259.07 431.90,259.08 432.30,264.80 432.70,267.13 433.10,268.20 433.50,269.37 433.90,271.25 434.30,275.86 434.70,274.04 435.10,278.07 435.48,278.51 435.86,278.90 436.24,284.41 436.62,284.83 437.00,286.56 437.36,289.41 437.72,286.72 438.08,290.53 438.44,292.48 438.80,294.68 439.20,293.25 439.60,297.31 440.00,298.04 440.40,300.91 440.78,301.18 441.17,301.02 441.55,302.81 441.93,301.53 442.32,301.65 442.70,302.34 443.14,302.02 443.57,303.25 444.01,301.98 444.45,303.77 444.89,304.54 445.32,305.34 445.76,304.40 446.20,306.22 446.62,304.56 447.04,305.14 447.45,304.03 447.87,304.88 448.29,304.99 448.71,306.94 449.13,306.30 449.55,305.18 449.96,306.55 450.38,306.63 450.80,306.23 451.23,306.47 451.66,306.30 452.09,306.19 452.52,305.48 452.96,306.62 453.39,307.62 453.82,307.76 454.25,306.66 454.68,306.41 455.11,306.82 455.54,307.60 455.98,307.30 456.41,306.76 456.84,307.41 457.27,307.12 457.70,307.62 458.14,307.11 458.58,306.54 459.02,307.51 459.47,307.97 459.91,306.96 460.35,307.59 460.79,308.19 461.23,307.57 461.68,307.48 462.12,308.60 462.56,308.36 463.00,308.51" fill="none" stroke="#000" stroke-width="1.1" stroke-linejoin="round"/>
<polyline points="406.50,305.35 406.93,307.30 407.37,304.50 407.80,305.30 408.23,306.24 408.67,306.64 409.10,304.55 409.53,304.66 409.97,305.30 410.40,303.51 410.84,305.44 411.27,305.22 411.71,304.13 412.15,304.92 412.59,305.01 413.02,304.40 413.46,304.47 413.90,305.33 414.32,302.88 414.75,303.12 415.18,301.95 415.60,303.27 416.02,301.20 416.45,301.81 416.88,300.99 417.30,300.48 417.73,301.70 418.16,298.63 418.59,299.87 419.01,298.26 419.44,298.19 419.87,295.18 420.30,296.03 420.68,294.66 421.07,291.29 421.45,291.61 421.83,289.78 422.22,288.79 422.60,290.09 422.98,285.39 423.37,282.61 423.75,281.59 424.13,282.94 424.52,281.57 424.90,281.93 425.30,282.48 425.70,284.17 426.10,280.80 426.50,280.55 426.90,277.42 427.30,279.65 427.68,280.78 428.07,280.20 428.45,273.05 428.83,278.11 429.22,279.11 429.60,276.86 430.00,270.41 430.40,271.94 430.80,272.86 431.20,271.29 431.60,267.49 432.00,266.43 432.40,270.12 432.80,263.59 433.16,270.90 433.52,267.87 433.88,269.01 434.24,265.50 434.60,267.76 434.98,270.18 435.36,264.19 435.74,271.21 436.12,262.90 436.50,262.63 436.90,265.23 437.30,265.77 437.70,265.85 438.10,262.45 438.50,263.75 438.90,264.55 439.30,264.59 439.70,262.78 440.08,267.92 440.46,264.74 440.84,263.11 441.22,259.65 441.60,260.57 442.05,260.74 442.50,261.45 442.95,265.39 443.40,259.13 443.80,264.34 444.20,261.28 444.60,263.49 445.00,268.40 445.43,263.32 445.85,267.20 446.27,267.44 446.70,272.56 447.06,269.63 447.42,269.73 447.78,276.31 448.14,276.00 448.50,277.72 448.88,282.02 449.27,279.28 449.65,281.70 450.03,284.09 450.42,285.94 450.80,285.54 451.18,289.54 451.57,291.76 451.95,289.24 452.33,293.91 452.72,289.52 453.10,295.63 453.48,293.84 453.87,295.54 454.25,295.81 454.63,296.37 455.02,296.50 455.40,298.69 455.78,301.59 456.17,302.11 456.55,301.10 456.93,301.68 457.32,302.29 457.70,302.60 458.14,305.71 458.57,305.01 459.01,304.77 459.45,304.51 459.89,304.34 460.32,306.64 460.76,306.45 461.20,305.35 461.65,306.96 462.09,305.44 462.54,306.86 462.98,305.75 463.43,306.26 463.88,307.01 464.32,307.05 464.77,307.55 465.22,306.36 465.66,308.09 466.11,308.00 466.55,307.20 467.00,307.59 467.44,306.84 467.88,307.27 468.31,306.58 468.75,307.49 469.19,307.59 469.63,308.31 470.07,308.10 470.50,308.05 470.94,307.39 471.38,307.50 471.82,307.47 472.26,307.83 472.70,306.80 473.13,308.19 473.57,306.94 474.01,307.55 474.45,307.88 474.89,307.63 475.32,308.60 475.76,307.92 476.20,308.60 476.64,308.60 477.08,307.79 477.52,308.26 477.96,308.60 478.40,307.94 478.84,308.16 479.28,307.88 479.72,308.19 480.16,308.02 480.60,308.24 481.04,308.60 481.48,308.60 481.92,308.32 482.36,308.37 482.80,308.60 483.24,308.20 483.68,307.90 484.12,308.60 484.56,308.00 485.00,308.60" fill="none" stroke="#000" stroke-width="1.35" stroke-linejoin="round"/>
<rect x="405.7" y="241.5" width="109.80000000000001" height="67.69999999999999" fill="none" stroke="#000" stroke-width="1.2"/>
<line x1="405.70" y1="309.2" x2="405.70" y2="311.2" stroke="#000" stroke-width="0.9"/>
<line x1="413.96" y1="309.2" x2="413.96" y2="310.4" stroke="#000" stroke-width="0.7"/>
<line x1="418.80" y1="309.2" x2="418.80" y2="310.4" stroke="#000" stroke-width="0.7"/>
<line x1="422.23" y1="309.2" x2="422.23" y2="310.4" stroke="#000" stroke-width="0.7"/>
<line x1="424.89" y1="309.2" x2="424.89" y2="310.4" stroke="#000" stroke-width="0.7"/>
<line x1="427.06" y1="309.2" x2="427.06" y2="310.4" stroke="#000" stroke-width="0.7"/>
<line x1="428.90" y1="309.2" x2="428.90" y2="310.4" stroke="#000" stroke-width="0.7"/>
<line x1="430.49" y1="309.2" x2="430.49" y2="310.4" stroke="#000" stroke-width="0.7"/>
<line x1="431.89" y1="309.2" x2="431.89" y2="310.4" stroke="#000" stroke-width="0.7"/>
<text transform="translate(405.70,317.40) scale(0.82,1)" font-size="5.3" font-weight="bold" text-anchor="middle" font-family="Liberation Sans" stroke="#000" stroke-width="0.25">10</text>
<text x="408.20" y="314.60" font-size="3.6" font-weight="bold" font-family="Liberation Sans" stroke="#000" stroke-width="0.15">0</text>
<line x1="433.15" y1="309.2" x2="433.15" y2="311.2" stroke="#000" stroke-width="0.9"/>
<line x1="441.41" y1="309.2" x2="441.41" y2="310.4" stroke="#000" stroke-width="0.7"/>
<line x1="446.25" y1="309.2" x2="446.25" y2="310.4" stroke="#000" stroke-width="0.7"/>
<line x1="449.68" y1="309.2" x2="449.68" y2="310.4" stroke="#000" stroke-width="0.7"/>
<line x1="452.34" y1="309.2" x2="452.34" y2="310.4" stroke="#000" stroke-width="0.7"/>
<line x1="454.51" y1="309.2" x2="454.51" y2="310.4" stroke="#000" stroke-width="0.7"/>
<line x1="456.35" y1="309.2" x2="456.35" y2="310.4" stroke="#000" stroke-width="0.7"/>
<line x1="457.94" y1="309.2" x2="457.94" y2="310.4" stroke="#000" stroke-width="0.7"/>
<line x1="459.34" y1="309.2" x2="459.34" y2="310.4" stroke="#000" stroke-width="0.7"/>
<text transform="translate(433.15,317.40) scale(0.82,1)" font-size="5.3" font-weight="bold" text-anchor="middle" font-family="Liberation Sans" stroke="#000" stroke-width="0.25">10</text>
<text x="435.65" y="314.60" font-size="3.6" font-weight="bold" font-family="Liberation Sans" stroke="#000" stroke-width="0.15">1</text>
<line x1="460.60" y1="309.2" x2="460.60" y2="311.2" stroke="#000" stroke-width="0.9"/>
<line x1="468.86" y1="309.2" x2="468.86" y2="310.4" stroke="#000" stroke-width="0.7"/>
<line x1="473.70" y1="309.2" x2="473.70" y2="310.4" stroke="#000" stroke-width="0.7"/>
<line x1="477.13" y1="309.2" x2="477.13" y2="310.4" stroke="#000" stroke-width="0.7"/>
<line x1="479.79" y1="309.2" x2="479.79" y2="310.4" stroke="#000" stroke-width="0.7"/>
<line x1="481.96" y1="309.2" x2="481.96" y2="310.4" stroke="#000" stroke-width="0.7"/>
<line x1="483.80" y1="309.2" x2="483.80" y2="310.4" stroke="#000" stroke-width="0.7"/>
<line x1="485.39" y1="309.2" x2="485.39" y2="310.4" stroke="#000" stroke-width="0.7"/>
<line x1="486.79" y1="309.2" x2="486.79" y2="310.4" stroke="#000" stroke-width="0.7"/>
<text transform="translate(460.60,317.40) scale(0.82,1)" font-size="5.3" font-weight="bold" text-anchor="middle" font-family="Liberation Sans" stroke="#000" stroke-width="0.25">10</text>
<text x="463.10" y="314.60" font-size="3.6" font-weight="bold" font-family="Liberation Sans" stroke="#000" stroke-width="0.15">2</text>
<line x1="488.05" y1="309.2" x2="488.05" y2="311.2" stroke="#000" stroke-width="0.9"/>
<line x1="496.31" y1="309.2" x2="496.31" y2="310.4" stroke="#000" stroke-width="0.7"/>
<line x1="501.15" y1="309.2" x2="501.15" y2="310.4" stroke="#000" stroke-width="0.7"/>
<line x1="504.58" y1="309.2" x2="504.58" y2="310.4" stroke="#000" stroke-width="0.7"/>
<line x1="507.24" y1="309.2" x2="507.24" y2="310.4" stroke="#000" stroke-width="0.7"/>
<line x1="509.41" y1="309.2" x2="509.41" y2="310.4" stroke="#000" stroke-width="0.7"/>
<line x1="511.25" y1="309.2" x2="511.25" y2="310.4" stroke="#000" stroke-width="0.7"/>
<line x1="512.84" y1="309.2" x2="512.84" y2="310.4" stroke="#000" stroke-width="0.7"/>
<line x1="514.24" y1="309.2" x2="514.24" y2="310.4" stroke="#000" stroke-width="0.7"/>
<text transform="translate(488.05,317.40) scale(0.82,1)" font-size="5.3" font-weight="bold" text-anchor="middle" font-family="Liberation Sans" stroke="#000" stroke-width="0.25">10</text>
<text x="490.55" y="314.60" font-size="3.6" font-weight="bold" font-family="Liberation Sans" stroke="#000" stroke-width="0.15">3</text>
<line x1="515.50" y1="309.2" x2="515.50" y2="311.2" stroke="#000" stroke-width="0.9"/>
<text transform="translate(515.50,317.40) scale(0.82,1)" font-size="5.3" font-weight="bold" text-anchor="middle" font-family="Liberation Sans" stroke="#000" stroke-width="0.25">10</text>
<text x="518.00" y="314.60" font-size="3.6" font-weight="bold" font-family="Liberation Sans" stroke="#000" stroke-width="0.15">4</text>
<text x="461.20" y="321.50" font-size="4.6" font-weight="bold" text-anchor="middle" font-family="Liberation Sans" stroke="#000" stroke-width="0.25">FL2-H</text>
<line x1="403.9" y1="309.20" x2="405.7" y2="309.20" stroke="#000" stroke-width="0.9"/>
<text transform="translate(403.40,309.20) rotate(-90)" x="0" y="0" font-size="5.2" font-weight="bold" text-anchor="middle" font-family="Liberation Sans" stroke="#000" stroke-width="0.35">0</text>
<line x1="403.9" y1="297.92" x2="405.7" y2="297.92" stroke="#000" stroke-width="0.9"/>
<text transform="translate(403.40,297.92) rotate(-90)" x="0" y="0" font-size="5.2" font-weight="bold" text-anchor="middle" font-family="Liberation Sans" stroke="#000" stroke-width="0.35">10</text>
<line x1="403.9" y1="286.63" x2="405.7" y2="286.63" stroke="#000" stroke-width="0.9"/>
<text transform="translate(403.40,286.63) rotate(-90)" x="0" y="0" font-size="5.2" font-weight="bold" text-anchor="middle" font-family="Liberation Sans" stroke="#000" stroke-width="0.35">20</text>
<line x1="403.9" y1="275.35" x2="405.7" y2="275.35" stroke="#000" stroke-width="0.9"/>
<text transform="translate(403.40,275.35) rotate(-90)" x="0" y="0" font-size="5.2" font-weight="bold" text-anchor="middle" font-family="Liberation Sans" stroke="#000" stroke-width="0.35">30</text>
<line x1="403.9" y1="264.07" x2="405.7" y2="264.07" stroke="#000" stroke-width="0.9"/>
<text transform="translate(403.40,264.07) rotate(-90)" x="0" y="0" font-size="5.2" font-weight="bold" text-anchor="middle" font-family="Liberation Sans" stroke="#000" stroke-width="0.35">40</text>
<line x1="403.9" y1="252.78" x2="405.7" y2="252.78" stroke="#000" stroke-width="0.9"/>
<text transform="translate(403.40,252.78) rotate(-90)" x="0" y="0" font-size="5.2" font-weight="bold" text-anchor="middle" font-family="Liberation Sans" stroke="#000" stroke-width="0.35">50</text>
<line x1="403.9" y1="241.50" x2="405.7" y2="241.50" stroke="#000" stroke-width="0.9"/>
<text transform="translate(403.40,241.50) rotate(-90)" x="0" y="0" font-size="5.2" font-weight="bold" text-anchor="middle" font-family="Liberation Sans" stroke="#000" stroke-width="0.35">60</text>
<line x1="404.7" y1="309.20" x2="405.7" y2="309.20" stroke="#000" stroke-width="0.6"/>
<line x1="404.7" y1="306.94" x2="405.7" y2="306.94" stroke="#000" stroke-width="0.6"/>
<line x1="404.7" y1="304.69" x2="405.7" y2="304.69" stroke="#000" stroke-width="0.6"/>
<line x1="404.7" y1="302.43" x2="405.7" y2="302.43" stroke="#000" stroke-width="0.6"/>
<line x1="404.7" y1="300.17" x2="405.7" y2="300.17" stroke="#000" stroke-width="0.6"/>
<line x1="404.7" y1="297.92" x2="405.7" y2="297.92" stroke="#000" stroke-width="0.6"/>
<line x1="404.7" y1="295.66" x2="405.7" y2="295.66" stroke="#000" stroke-width="0.6"/>
<line x1="404.7" y1="293.40" x2="405.7" y2="293.40" stroke="#000" stroke-width="0.6"/>
<line x1="404.7" y1="291.15" x2="405.7" y2="291.15" stroke="#000" stroke-width="0.6"/>
<line x1="404.7" y1="288.89" x2="405.7" y2="288.89" stroke="#000" stroke-width="0.6"/>
<line x1="404.7" y1="286.63" x2="405.7" y2="286.63" stroke="#000" stroke-width="0.6"/>
<line x1="404.7" y1="284.38" x2="405.7" y2="284.38" stroke="#000" stroke-width="0.6"/>
<line x1="404.7" y1="282.12" x2="405.7" y2="282.12" stroke="#000" stroke-width="0.6"/>
<line x1="404.7" y1="279.86" x2="405.7" y2="279.86" stroke="#000" stroke-width="0.6"/>
<line x1="404.7" y1="277.61" x2="405.7" y2="277.61" stroke="#000" stroke-width="0.6"/>
<line x1="404.7" y1="275.35" x2="405.7" y2="275.35" stroke="#000" stroke-width="0.6"/>
<line x1="404.7" y1="273.09" x2="405.7" y2="273.09" stroke="#000" stroke-width="0.6"/>
<line x1="404.7" y1="270.84" x2="405.7" y2="270.84" stroke="#000" stroke-width="0.6"/>
<line x1="404.7" y1="268.58" x2="405.7" y2="268.58" stroke="#000" stroke-width="0.6"/>
<line x1="404.7" y1="266.32" x2="405.7" y2="266.32" stroke="#000" stroke-width="0.6"/>
<line x1="404.7" y1="264.07" x2="405.7" y2="264.07" stroke="#000" stroke-width="0.6"/>
<line x1="404.7" y1="261.81" x2="405.7" y2="261.81" stroke="#000" stroke-width="0.6"/>
<line x1="404.7" y1="259.55" x2="405.7" y2="259.55" stroke="#000" stroke-width="0.6"/>
<line x1="404.7" y1="257.30" x2="405.7" y2="257.30" stroke="#000" stroke-width="0.6"/>
<line x1="404.7" y1="255.04" x2="405.7" y2="255.04" stroke="#000" stroke-width="0.6"/>
<line x1="404.7" y1="252.78" x2="405.7" y2="252.78" stroke="#000" stroke-width="0.6"/>
<line x1="404.7" y1="250.53" x2="405.7" y2="250.53" stroke="#000" stroke-width="0.6"/>
<line x1="404.7" y1="248.27" x2="405.7" y2="248.27" stroke="#000" stroke-width="0.6"/>
<line x1="404.7" y1="246.01" x2="405.7" y2="246.01" stroke="#000" stroke-width="0.6"/>
<line x1="404.7" y1="243.76" x2="405.7" y2="243.76" stroke="#000" stroke-width="0.6"/>
<line x1="404.7" y1="241.50" x2="405.7" y2="241.50" stroke="#000" stroke-width="0.6"/>
<text transform="translate(397.80,276.70) rotate(-90)" x="0" y="0" font-size="4.6" font-weight="bold" text-anchor="middle" font-family="Liberation Sans" stroke="#000" stroke-width="0.2">Counts</text>
</svg>
</body></html>
